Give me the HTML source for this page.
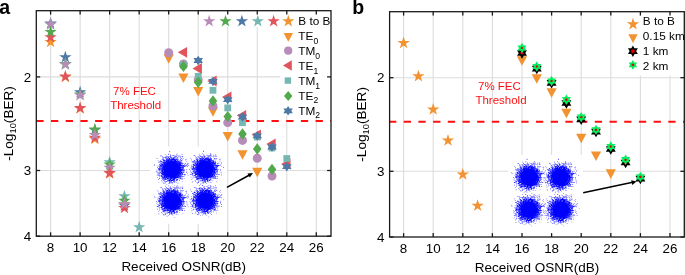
<!DOCTYPE html>
<html><head><meta charset="utf-8"><style>
html,body{margin:0;padding:0;background:#fff;width:685px;height:275px;overflow:hidden}
svg{display:block;font-family:"Liberation Sans", sans-serif;will-change:transform}
</style></head><body>
<svg width="685" height="275" viewBox="0 0 685 275" font-family='"Liberation Sans", sans-serif'><rect width="685" height="275" fill="#fff"/>
<line x1="50.6" y1="10.7" x2="50.6" y2="236.2" stroke="#dcdcdc" stroke-width="1.1"/>
<line x1="80.12" y1="10.7" x2="80.12" y2="236.2" stroke="#dcdcdc" stroke-width="1.1"/>
<line x1="109.64" y1="10.7" x2="109.64" y2="236.2" stroke="#dcdcdc" stroke-width="1.1"/>
<line x1="139.17" y1="10.7" x2="139.17" y2="236.2" stroke="#dcdcdc" stroke-width="1.1"/>
<line x1="168.69" y1="10.7" x2="168.69" y2="236.2" stroke="#dcdcdc" stroke-width="1.1"/>
<line x1="198.21" y1="10.7" x2="198.21" y2="236.2" stroke="#dcdcdc" stroke-width="1.1"/>
<line x1="227.73" y1="10.7" x2="227.73" y2="236.2" stroke="#dcdcdc" stroke-width="1.1"/>
<line x1="257.25" y1="10.7" x2="257.25" y2="236.2" stroke="#dcdcdc" stroke-width="1.1"/>
<line x1="286.78" y1="10.7" x2="286.78" y2="236.2" stroke="#dcdcdc" stroke-width="1.1"/>
<line x1="316.3" y1="10.7" x2="316.3" y2="236.2" stroke="#dcdcdc" stroke-width="1.1"/>
<line x1="36.3" y1="76.9" x2="331" y2="76.9" stroke="#dcdcdc" stroke-width="1.1"/>
<line x1="36.3" y1="170.5" x2="331" y2="170.5" stroke="#dcdcdc" stroke-width="1.1"/>
<line x1="403.6" y1="11.7" x2="403.6" y2="237" stroke="#dcdcdc" stroke-width="1.1"/>
<line x1="433.2" y1="11.7" x2="433.2" y2="237" stroke="#dcdcdc" stroke-width="1.1"/>
<line x1="462.8" y1="11.7" x2="462.8" y2="237" stroke="#dcdcdc" stroke-width="1.1"/>
<line x1="492.4" y1="11.7" x2="492.4" y2="237" stroke="#dcdcdc" stroke-width="1.1"/>
<line x1="522" y1="11.7" x2="522" y2="237" stroke="#dcdcdc" stroke-width="1.1"/>
<line x1="551.6" y1="11.7" x2="551.6" y2="237" stroke="#dcdcdc" stroke-width="1.1"/>
<line x1="581.2" y1="11.7" x2="581.2" y2="237" stroke="#dcdcdc" stroke-width="1.1"/>
<line x1="610.8" y1="11.7" x2="610.8" y2="237" stroke="#dcdcdc" stroke-width="1.1"/>
<line x1="640.4" y1="11.7" x2="640.4" y2="237" stroke="#dcdcdc" stroke-width="1.1"/>
<line x1="670" y1="11.7" x2="670" y2="237" stroke="#dcdcdc" stroke-width="1.1"/>
<line x1="389.6" y1="77.7" x2="684.3" y2="77.7" stroke="#dcdcdc" stroke-width="1.1"/>
<line x1="389.6" y1="171.3" x2="684.3" y2="171.3" stroke="#dcdcdc" stroke-width="1.1"/>
<line x1="36.3" y1="121" x2="331" y2="121" stroke="#FF1010" stroke-width="2" stroke-dasharray="7.3 7.4"/>
<line x1="389.6" y1="121.8" x2="684.3" y2="121.8" stroke="#FF1010" stroke-width="2" stroke-dasharray="7.3 7.4" stroke-dashoffset="0.6"/>
<text x="134.5" y="95.2" font-size="11.5" fill="#FF1010" text-anchor="middle" font-weight="normal">7% FEC</text>
<text x="135.7" y="109.4" font-size="11.5" fill="#FF1010" text-anchor="middle" font-weight="normal">Threshold</text>
<text x="499.4" y="89.8" font-size="11.5" fill="#FF1010" text-anchor="middle" font-weight="normal">7% FEC</text>
<text x="501" y="103.8" font-size="11.5" fill="#FF1010" text-anchor="middle" font-weight="normal">Threshold</text>
<defs><g id="cl"><circle r="8.6" fill="#0000FF"/><path d="M-8.6 4.0h0.6v0.6h-0.6zM-8.8 -9.0h0.6v0.6h-0.6zM-3.6 8.3h0.6v0.6h-0.6zM-10.4 -1.9h0.6v0.6h-0.6zM-7.6 3.8h0.6v0.6h-0.6zM6.1 -10.5h0.6v0.6h-0.6zM-9.8 -12.9h0.6v0.6h-0.6zM7.7 2.8h0.6v0.6h-0.6zM-8.1 6.1h0.6v0.6h-0.6zM-10.2 -3.5h0.6v0.6h-0.6zM3.9 -9.4h0.6v0.6h-0.6zM-6.9 7.8h0.6v0.6h-0.6zM6.7 -5.4h0.6v0.6h-0.6zM6.0 -6.6h0.6v0.6h-0.6zM9.8 1.3h0.6v0.6h-0.6zM8.9 -13.1h0.6v0.6h-0.6zM11.9 1.5h0.6v0.6h-0.6zM-13.9 -2.7h0.6v0.6h-0.6zM4.0 7.2h0.6v0.6h-0.6zM-8.8 -2.1h0.6v0.6h-0.6zM5.2 -13.7h0.6v0.6h-0.6zM5.1 -7.5h0.6v0.6h-0.6zM3.1 -7.8h0.6v0.6h-0.6zM13.4 -6.0h0.6v0.6h-0.6zM-7.9 -7.8h0.6v0.6h-0.6zM-5.4 -7.7h0.6v0.6h-0.6zM7.1 -5.0h0.6v0.6h-0.6zM3.5 7.6h0.6v0.6h-0.6zM-4.8 7.5h0.6v0.6h-0.6zM-10.2 6.7h0.6v0.6h-0.6zM7.2 -5.4h0.6v0.6h-0.6zM5.4 7.1h0.6v0.6h-0.6zM-11.8 -2.2h0.6v0.6h-0.6zM-9.6 3.8h0.6v0.6h-0.6zM7.2 7.7h0.6v0.6h-0.6zM-9.7 -5.7h0.6v0.6h-0.6zM-10.1 5.0h0.6v0.6h-0.6zM8.7 -0.1h0.6v0.6h-0.6zM-8.5 -3.3h0.6v0.6h-0.6zM-8.1 -3.5h0.6v0.6h-0.6zM-12.1 1.3h0.6v0.6h-0.6zM-3.5 -10.0h0.6v0.6h-0.6zM-11.5 -4.7h0.6v0.6h-0.6zM2.0 -10.7h0.6v0.6h-0.6zM9.4 -9.1h0.6v0.6h-0.6zM2.0 11.8h0.6v0.6h-0.6zM9.1 -0.9h0.6v0.6h-0.6zM13.0 5.4h0.6v0.6h-0.6zM2.9 -13.3h0.6v0.6h-0.6zM8.1 1.8h0.6v0.6h-0.6zM-10.0 4.9h0.6v0.6h-0.6zM6.3 8.7h0.6v0.6h-0.6zM10.3 4.9h0.6v0.6h-0.6zM-6.3 -7.0h0.6v0.6h-0.6zM8.2 4.6h0.6v0.6h-0.6zM8.8 3.8h0.6v0.6h-0.6zM-11.1 -4.0h0.6v0.6h-0.6zM-9.8 -0.0h0.6v0.6h-0.6zM-5.7 -13.4h0.6v0.6h-0.6zM-5.5 7.6h0.6v0.6h-0.6zM7.1 3.2h0.6v0.6h-0.6zM8.0 4.6h0.6v0.6h-0.6zM-1.4 12.4h0.6v0.6h-0.6zM0.2 12.7h0.6v0.6h-0.6zM-2.5 -10.3h0.6v0.6h-0.6zM8.8 2.3h0.6v0.6h-0.6zM-1.2 -9.4h0.6v0.6h-0.6zM-9.8 -0.6h0.6v0.6h-0.6zM2.9 -9.1h0.6v0.6h-0.6zM-9.4 -5.6h0.6v0.6h-0.6zM7.2 5.5h0.6v0.6h-0.6zM2.2 -8.2h0.6v0.6h-0.6zM-1.2 -13.9h0.6v0.6h-0.6zM11.3 -1.9h0.6v0.6h-0.6zM5.3 -12.2h0.6v0.6h-0.6zM2.7 11.4h0.6v0.6h-0.6zM0.9 10.3h0.6v0.6h-0.6zM-4.2 8.5h0.6v0.6h-0.6zM8.0 -0.2h0.6v0.6h-0.6zM7.3 5.4h0.6v0.6h-0.6zM-2.9 11.1h0.6v0.6h-0.6zM-9.0 8.6h0.6v0.6h-0.6zM6.5 -6.4h0.6v0.6h-0.6zM-7.8 -8.4h0.6v0.6h-0.6zM2.5 10.2h0.6v0.6h-0.6zM13.7 -9.6h0.6v0.6h-0.6zM-9.8 -4.7h0.6v0.6h-0.6zM9.0 -3.1h0.6v0.6h-0.6zM-9.2 6.9h0.6v0.6h-0.6zM4.2 -9.0h0.6v0.6h-0.6zM-5.4 -7.1h0.6v0.6h-0.6zM8.2 1.8h0.6v0.6h-0.6zM0.9 10.9h0.6v0.6h-0.6zM-5.9 -10.2h0.6v0.6h-0.6zM1.2 8.0h0.6v0.6h-0.6zM-3.7 11.5h0.6v0.6h-0.6zM-6.5 -10.8h0.6v0.6h-0.6zM2.8 12.9h0.6v0.6h-0.6zM8.0 -6.5h0.6v0.6h-0.6zM-2.2 -17.5h0.6v0.6h-0.6zM4.3 10.5h0.6v0.6h-0.6zM-6.1 7.0h0.6v0.6h-0.6zM-8.1 7.7h0.6v0.6h-0.6zM-8.0 4.6h0.6v0.6h-0.6zM-0.5 -11.0h0.6v0.6h-0.6zM8.1 -0.1h0.6v0.6h-0.6zM11.6 -3.6h0.6v0.6h-0.6zM3.5 -8.0h0.6v0.6h-0.6zM2.4 7.6h0.6v0.6h-0.6zM-6.7 12.2h0.6v0.6h-0.6zM10.7 -10.2h0.6v0.6h-0.6zM-0.4 -10.0h0.6v0.6h-0.6zM5.6 8.2h0.6v0.6h-0.6zM-12.7 9.2h0.6v0.6h-0.6zM-9.4 1.2h0.6v0.6h-0.6zM5.7 -9.6h0.6v0.6h-0.6zM-0.8 8.4h0.6v0.6h-0.6zM-4.7 11.3h0.6v0.6h-0.6zM10.8 -13.0h0.6v0.6h-0.6zM10.5 0.1h0.6v0.6h-0.6zM-8.5 4.0h0.6v0.6h-0.6zM-8.9 5.5h0.6v0.6h-0.6zM-7.3 -8.8h0.6v0.6h-0.6zM-11.6 -1.8h0.6v0.6h-0.6zM4.1 -12.6h0.6v0.6h-0.6zM12.5 -5.1h0.6v0.6h-0.6zM-8.3 5.2h0.6v0.6h-0.6zM-2.0 -10.8h0.6v0.6h-0.6zM0.4 -9.0h0.6v0.6h-0.6zM-1.2 -8.9h0.6v0.6h-0.6zM10.1 -13.3h0.6v0.6h-0.6zM-1.3 -9.4h0.6v0.6h-0.6zM4.6 13.0h0.6v0.6h-0.6zM-12.8 0.3h0.6v0.6h-0.6zM2.5 -11.5h0.6v0.6h-0.6zM-11.5 -0.5h0.6v0.6h-0.6zM5.9 9.7h0.6v0.6h-0.6zM-4.8 -9.9h0.6v0.6h-0.6zM4.0 7.3h0.6v0.6h-0.6zM-9.4 -5.3h0.6v0.6h-0.6zM12.2 9.3h0.6v0.6h-0.6zM-5.7 6.2h0.6v0.6h-0.6zM-9.5 -11.3h0.6v0.6h-0.6zM-10.9 -1.1h0.6v0.6h-0.6zM7.5 8.5h0.6v0.6h-0.6zM5.7 -6.6h0.6v0.6h-0.6zM-0.2 10.5h0.6v0.6h-0.6zM7.8 2.8h0.6v0.6h-0.6zM9.7 2.8h0.6v0.6h-0.6zM9.3 0.1h0.6v0.6h-0.6zM-4.6 6.8h0.6v0.6h-0.6zM-3.6 -9.4h0.6v0.6h-0.6zM-0.8 -12.3h0.6v0.6h-0.6zM0.4 10.6h0.6v0.6h-0.6zM-7.4 -12.3h0.6v0.6h-0.6zM-9.7 1.5h0.6v0.6h-0.6zM-3.5 -9.6h0.6v0.6h-0.6zM9.4 4.9h0.6v0.6h-0.6zM8.7 6.8h0.6v0.6h-0.6zM-6.3 6.7h0.6v0.6h-0.6zM4.2 -9.8h0.6v0.6h-0.6zM8.9 3.7h0.6v0.6h-0.6zM10.0 -6.5h0.6v0.6h-0.6zM5.0 -7.8h0.6v0.6h-0.6zM-6.5 -7.3h0.6v0.6h-0.6zM-8.2 3.0h0.6v0.6h-0.6zM0.8 -14.1h0.6v0.6h-0.6zM-9.2 0.2h0.6v0.6h-0.6zM-5.7 7.4h0.6v0.6h-0.6zM-1.1 11.7h0.6v0.6h-0.6zM7.4 4.0h0.6v0.6h-0.6zM-3.2 -8.6h0.6v0.6h-0.6zM-7.8 6.8h0.6v0.6h-0.6zM-8.5 -1.9h0.6v0.6h-0.6zM5.1 7.7h0.6v0.6h-0.6zM-4.6 -7.3h0.6v0.6h-0.6zM-3.1 -9.5h0.6v0.6h-0.6zM10.0 7.3h0.6v0.6h-0.6zM8.6 -1.2h0.6v0.6h-0.6zM-7.4 4.9h0.6v0.6h-0.6zM-7.1 4.3h0.6v0.6h-0.6zM-7.7 -4.0h0.6v0.6h-0.6zM-2.1 -10.4h0.6v0.6h-0.6zM-5.5 -10.6h0.6v0.6h-0.6zM-13.8 0.6h0.6v0.6h-0.6zM4.3 7.1h0.6v0.6h-0.6zM-10.6 6.2h0.6v0.6h-0.6zM-6.9 5.0h0.6v0.6h-0.6zM10.1 9.7h0.6v0.6h-0.6zM1.0 7.8h0.6v0.6h-0.6zM1.4 8.5h0.6v0.6h-0.6zM5.7 6.0h0.6v0.6h-0.6zM1.6 12.4h0.6v0.6h-0.6zM3.6 -8.7h0.6v0.6h-0.6zM8.5 -4.6h0.6v0.6h-0.6zM8.5 3.0h0.6v0.6h-0.6zM7.0 -5.2h0.6v0.6h-0.6zM5.7 7.0h0.6v0.6h-0.6zM12.0 0.6h0.6v0.6h-0.6zM0.6 8.3h0.6v0.6h-0.6zM7.0 -5.3h0.6v0.6h-0.6zM4.9 8.9h0.6v0.6h-0.6zM-7.1 -5.8h0.6v0.6h-0.6zM-5.5 -9.5h0.6v0.6h-0.6zM2.0 -9.6h0.6v0.6h-0.6zM-8.4 -1.9h0.6v0.6h-0.6zM-9.9 3.6h0.6v0.6h-0.6zM-10.0 -2.8h0.6v0.6h-0.6zM9.3 0.1h0.6v0.6h-0.6zM-5.2 -8.6h0.6v0.6h-0.6zM-5.1 -10.9h0.6v0.6h-0.6zM-7.1 12.1h0.6v0.6h-0.6zM-5.6 8.1h0.6v0.6h-0.6zM-8.8 -1.7h0.6v0.6h-0.6zM-13.9 -0.8h0.6v0.6h-0.6zM-5.3 -7.6h0.6v0.6h-0.6zM-6.1 -6.9h0.6v0.6h-0.6zM-5.1 -7.7h0.6v0.6h-0.6zM1.4 -11.2h0.6v0.6h-0.6zM3.6 -8.2h0.6v0.6h-0.6zM-7.6 -9.4h0.6v0.6h-0.6zM-10.2 -6.7h0.6v0.6h-0.6zM9.1 8.7h0.6v0.6h-0.6zM8.3 5.0h0.6v0.6h-0.6zM7.9 2.4h0.6v0.6h-0.6zM-2.5 -9.9h0.6v0.6h-0.6zM-11.6 2.5h0.6v0.6h-0.6zM-0.6 12.6h0.6v0.6h-0.6zM4.7 8.3h0.6v0.6h-0.6zM5.2 6.8h0.6v0.6h-0.6zM-6.9 5.5h0.6v0.6h-0.6zM7.9 -3.3h0.6v0.6h-0.6zM12.2 4.7h0.6v0.6h-0.6zM-3.0 -9.3h0.6v0.6h-0.6zM9.0 -1.6h0.6v0.6h-0.6zM-9.7 4.2h0.6v0.6h-0.6zM-8.8 -6.7h0.6v0.6h-0.6zM3.9 -9.9h0.6v0.6h-0.6zM8.8 2.2h0.6v0.6h-0.6zM3.5 -9.6h0.6v0.6h-0.6zM5.1 -7.6h0.6v0.6h-0.6zM-4.7 -10.4h0.6v0.6h-0.6zM-8.7 -3.3h0.6v0.6h-0.6zM2.3 7.6h0.6v0.6h-0.6zM-0.5 8.0h0.6v0.6h-0.6zM7.4 4.4h0.6v0.6h-0.6zM-9.7 -5.4h0.6v0.6h-0.6zM14.6 2.9h0.6v0.6h-0.6zM7.8 -3.1h0.6v0.6h-0.6zM5.1 -12.0h0.6v0.6h-0.6zM-9.8 -3.9h0.6v0.6h-0.6zM-12.0 2.8h0.6v0.6h-0.6zM8.9 8.4h0.6v0.6h-0.6zM-8.2 -10.0h0.6v0.6h-0.6zM14.8 -3.6h0.6v0.6h-0.6zM8.6 -6.5h0.6v0.6h-0.6zM-9.1 -11.9h0.6v0.6h-0.6zM0.1 -12.1h0.6v0.6h-0.6zM-7.4 -4.9h0.6v0.6h-0.6zM10.9 2.3h0.6v0.6h-0.6zM1.8 11.2h0.6v0.6h-0.6zM6.7 -8.1h0.6v0.6h-0.6zM9.1 6.3h0.6v0.6h-0.6zM5.9 7.7h0.6v0.6h-0.6zM-4.8 9.5h0.6v0.6h-0.6zM10.1 8.8h0.6v0.6h-0.6zM9.6 3.4h0.6v0.6h-0.6zM-10.4 11.3h0.6v0.6h-0.6zM11.1 -0.4h0.6v0.6h-0.6zM3.3 7.5h0.6v0.6h-0.6zM5.2 -8.7h0.6v0.6h-0.6zM3.4 8.4h0.6v0.6h-0.6zM3.8 -9.5h0.6v0.6h-0.6zM-6.4 5.4h0.6v0.6h-0.6zM9.1 3.5h0.6v0.6h-0.6zM-0.3 8.9h0.6v0.6h-0.6zM-8.6 -5.7h0.6v0.6h-0.6zM5.1 -10.8h0.6v0.6h-0.6zM-9.7 7.0h0.6v0.6h-0.6zM-13.3 5.3h0.6v0.6h-0.6zM3.4 -10.7h0.6v0.6h-0.6zM3.6 -9.2h0.6v0.6h-0.6zM11.0 -3.4h0.6v0.6h-0.6zM8.2 -1.9h0.6v0.6h-0.6zM3.5 -10.0h0.6v0.6h-0.6zM-11.3 -3.3h0.6v0.6h-0.6zM-3.5 14.2h0.6v0.6h-0.6zM-2.7 8.0h0.6v0.6h-0.6zM-7.6 -6.8h0.6v0.6h-0.6zM-0.9 -8.5h0.6v0.6h-0.6zM-13.1 -0.1h0.6v0.6h-0.6zM1.8 -10.2h0.6v0.6h-0.6zM1.9 -9.8h0.6v0.6h-0.6zM5.0 -8.2h0.6v0.6h-0.6zM-10.1 4.6h0.6v0.6h-0.6zM7.3 -4.4h0.6v0.6h-0.6zM-17.7 -4.6h0.6v0.6h-0.6zM-7.5 9.5h0.6v0.6h-0.6zM-9.5 -4.9h0.6v0.6h-0.6zM-9.3 -2.0h0.6v0.6h-0.6zM9.0 -1.6h0.6v0.6h-0.6zM6.2 -14.0h0.6v0.6h-0.6zM-9.9 12.4h0.6v0.6h-0.6zM-7.8 4.3h0.6v0.6h-0.6zM-17.1 -3.7h0.6v0.6h-0.6zM-9.5 -1.6h0.6v0.6h-0.6zM-7.2 -6.2h0.6v0.6h-0.6zM8.5 6.0h0.6v0.6h-0.6zM9.6 3.2h0.6v0.6h-0.6zM-11.3 -6.6h0.6v0.6h-0.6zM8.6 -4.4h0.6v0.6h-0.6zM-4.5 9.5h0.6v0.6h-0.6zM-10.4 -7.9h0.6v0.6h-0.6zM-12.5 0.0h0.6v0.6h-0.6zM-4.0 9.2h0.6v0.6h-0.6zM-9.1 0.6h0.6v0.6h-0.6zM6.4 6.2h0.6v0.6h-0.6zM-9.2 3.0h0.6v0.6h-0.6zM-9.3 8.5h0.6v0.6h-0.6zM2.9 11.6h0.6v0.6h-0.6zM-1.4 8.2h0.6v0.6h-0.6zM4.0 8.4h0.6v0.6h-0.6zM7.0 -5.0h0.6v0.6h-0.6zM7.1 -7.0h0.6v0.6h-0.6zM8.0 7.0h0.6v0.6h-0.6zM4.1 -7.8h0.6v0.6h-0.6zM6.5 5.4h0.6v0.6h-0.6zM2.4 10.4h0.6v0.6h-0.6zM-0.4 -9.7h0.6v0.6h-0.6zM-1.0 -9.7h0.6v0.6h-0.6zM-2.9 -9.0h0.6v0.6h-0.6zM-3.5 9.6h0.6v0.6h-0.6zM-4.9 7.7h0.6v0.6h-0.6zM-8.4 -2.8h0.6v0.6h-0.6zM0.7 -9.7h0.6v0.6h-0.6zM8.0 -0.7h0.6v0.6h-0.6zM-8.4 -8.7h0.6v0.6h-0.6zM8.2 1.2h0.6v0.6h-0.6zM6.2 -9.7h0.6v0.6h-0.6zM4.0 7.3h0.6v0.6h-0.6zM3.7 -7.5h0.6v0.6h-0.6zM-6.7 6.6h0.6v0.6h-0.6zM9.7 -7.1h0.6v0.6h-0.6zM-12.7 4.3h0.6v0.6h-0.6zM5.0 -8.6h0.6v0.6h-0.6zM-5.0 -8.4h0.6v0.6h-0.6zM10.5 -2.3h0.6v0.6h-0.6zM8.7 -10.4h0.6v0.6h-0.6zM-6.1 8.4h0.6v0.6h-0.6zM7.3 6.2h0.6v0.6h-0.6zM-9.6 3.4h0.6v0.6h-0.6zM7.2 5.3h0.6v0.6h-0.6zM8.5 -5.3h0.6v0.6h-0.6zM3.8 6.9h0.6v0.6h-0.6zM-4.9 6.8h0.6v0.6h-0.6zM-4.3 -8.8h0.6v0.6h-0.6zM-1.3 -12.4h0.6v0.6h-0.6zM-8.9 -3.0h0.6v0.6h-0.6zM8.3 7.1h0.6v0.6h-0.6zM6.6 5.4h0.6v0.6h-0.6zM-3.7 -8.7h0.6v0.6h-0.6zM-10.5 -0.4h0.6v0.6h-0.6zM3.5 8.1h0.6v0.6h-0.6zM1.9 10.1h0.6v0.6h-0.6zM-14.5 3.4h0.6v0.6h-0.6zM-12.6 -2.5h0.6v0.6h-0.6zM-8.3 -3.5h0.6v0.6h-0.6zM5.7 -6.5h0.6v0.6h-0.6zM2.6 -10.0h0.6v0.6h-0.6zM-3.1 7.7h0.6v0.6h-0.6zM-6.9 13.1h0.6v0.6h-0.6zM9.8 0.2h0.6v0.6h-0.6zM-13.2 -7.5h0.6v0.6h-0.6zM-5.7 6.5h0.6v0.6h-0.6zM-9.4 4.1h0.6v0.6h-0.6zM-8.3 -6.3h0.6v0.6h-0.6zM-1.6 -13.1h0.6v0.6h-0.6zM3.4 -9.8h0.6v0.6h-0.6zM-4.2 7.1h0.6v0.6h-0.6zM-2.3 -8.5h0.6v0.6h-0.6zM1.6 -13.9h0.6v0.6h-0.6zM-12.1 -2.0h0.6v0.6h-0.6zM-1.2 -11.5h0.6v0.6h-0.6zM-5.1 9.4h0.6v0.6h-0.6zM-8.4 5.5h0.6v0.6h-0.6zM-9.8 5.7h0.6v0.6h-0.6zM-5.1 15.0h0.6v0.6h-0.6zM5.2 8.0h0.6v0.6h-0.6zM-0.2 -9.6h0.6v0.6h-0.6zM-10.8 0.7h0.6v0.6h-0.6zM-9.4 -5.2h0.6v0.6h-0.6zM2.3 9.7h0.6v0.6h-0.6zM-5.9 6.4h0.6v0.6h-0.6zM10.3 -12.5h0.6v0.6h-0.6zM10.0 8.4h0.6v0.6h-0.6zM10.7 0.4h0.6v0.6h-0.6zM-6.3 9.2h0.6v0.6h-0.6zM-2.5 -10.4h0.6v0.6h-0.6zM0.6 8.5h0.6v0.6h-0.6zM14.9 1.6h0.6v0.6h-0.6zM-4.5 9.1h0.6v0.6h-0.6zM2.5 12.5h0.6v0.6h-0.6zM-5.5 -13.5h0.6v0.6h-0.6zM-12.0 6.2h0.6v0.6h-0.6zM-9.2 -7.5h0.6v0.6h-0.6zM4.5 -7.6h0.6v0.6h-0.6zM-5.6 11.9h0.6v0.6h-0.6zM8.0 -0.3h0.6v0.6h-0.6zM-13.9 -9.2h0.6v0.6h-0.6zM-1.3 10.6h0.6v0.6h-0.6zM4.1 7.9h0.6v0.6h-0.6zM4.7 -9.7h0.6v0.6h-0.6zM-7.2 6.1h0.6v0.6h-0.6zM-13.8 10.1h0.6v0.6h-0.6zM-9.2 0.9h0.6v0.6h-0.6zM-6.8 -7.8h0.6v0.6h-0.6zM6.5 -5.2h0.6v0.6h-0.6zM-10.7 1.4h0.6v0.6h-0.6zM-9.6 -1.0h0.6v0.6h-0.6zM-4.2 -7.5h0.6v0.6h-0.6zM0.7 -8.8h0.6v0.6h-0.6zM7.9 4.0h0.6v0.6h-0.6zM8.9 -0.4h0.6v0.6h-0.6zM14.7 0.3h0.6v0.6h-0.6zM5.7 -7.0h0.6v0.6h-0.6zM-1.6 8.5h0.6v0.6h-0.6zM-11.5 3.0h0.6v0.6h-0.6zM-9.9 3.2h0.6v0.6h-0.6zM2.3 -12.3h0.6v0.6h-0.6zM-0.8 10.6h0.6v0.6h-0.6zM8.9 2.2h0.6v0.6h-0.6zM4.0 -13.6h0.6v0.6h-0.6zM14.5 -8.0h0.6v0.6h-0.6zM-10.2 0.7h0.6v0.6h-0.6zM-1.7 10.2h0.6v0.6h-0.6zM-10.9 -7.9h0.6v0.6h-0.6zM-7.0 9.7h0.6v0.6h-0.6zM-0.2 7.9h0.6v0.6h-0.6zM3.5 7.6h0.6v0.6h-0.6zM-8.6 -3.1h0.6v0.6h-0.6zM5.5 10.1h0.6v0.6h-0.6zM-5.0 8.1h0.6v0.6h-0.6zM0.3 9.8h0.6v0.6h-0.6zM-10.8 -0.4h0.6v0.6h-0.6zM11.6 0.8h0.6v0.6h-0.6zM-9.1 0.3h0.6v0.6h-0.6zM0.8 8.0h0.6v0.6h-0.6zM-7.5 -5.2h0.6v0.6h-0.6zM-7.0 11.6h0.6v0.6h-0.6zM8.6 -0.5h0.6v0.6h-0.6zM1.7 -11.0h0.6v0.6h-0.6zM4.7 -7.5h0.6v0.6h-0.6zM5.3 -10.7h0.6v0.6h-0.6zM6.5 -5.0h0.6v0.6h-0.6zM4.2 -8.1h0.6v0.6h-0.6zM3.7 -8.1h0.6v0.6h-0.6zM8.3 -2.0h0.6v0.6h-0.6zM-0.4 9.2h0.6v0.6h-0.6zM-11.2 0.2h0.6v0.6h-0.6zM-7.1 5.2h0.6v0.6h-0.6zM8.4 -3.6h0.6v0.6h-0.6zM-5.8 -8.1h0.6v0.6h-0.6zM4.3 -7.9h0.6v0.6h-0.6zM-6.2 7.4h0.6v0.6h-0.6zM-5.1 -8.0h0.6v0.6h-0.6zM8.7 2.1h0.6v0.6h-0.6zM1.4 10.1h0.6v0.6h-0.6zM-8.5 -7.1h0.6v0.6h-0.6zM5.1 10.4h0.6v0.6h-0.6zM-9.0 2.3h0.6v0.6h-0.6zM-8.5 7.7h0.6v0.6h-0.6zM-12.1 4.0h0.6v0.6h-0.6zM-9.3 10.0h0.6v0.6h-0.6zM8.6 3.0h0.6v0.6h-0.6zM-8.2 2.4h0.6v0.6h-0.6zM9.8 -3.4h0.6v0.6h-0.6zM-6.8 4.9h0.6v0.6h-0.6zM-9.7 8.5h0.6v0.6h-0.6zM-8.6 -4.6h0.6v0.6h-0.6zM12.2 -2.9h0.6v0.6h-0.6zM2.8 10.2h0.6v0.6h-0.6zM-9.4 2.6h0.6v0.6h-0.6zM-6.0 -6.9h0.6v0.6h-0.6zM-7.6 8.2h0.6v0.6h-0.6zM-7.5 9.1h0.6v0.6h-0.6zM-8.0 4.4h0.6v0.6h-0.6zM-8.3 -10.6h0.6v0.6h-0.6zM7.4 -3.3h0.6v0.6h-0.6zM3.7 9.0h0.6v0.6h-0.6zM-5.5 -9.7h0.6v0.6h-0.6zM-10.1 -0.4h0.6v0.6h-0.6zM-1.7 9.2h0.6v0.6h-0.6zM2.0 -9.6h0.6v0.6h-0.6zM8.3 -6.7h0.6v0.6h-0.6zM-0.7 -9.6h0.6v0.6h-0.6zM-6.4 -8.6h0.6v0.6h-0.6zM-7.7 -5.9h0.6v0.6h-0.6zM-6.4 -12.4h0.6v0.6h-0.6zM-8.8 -3.4h0.6v0.6h-0.6zM8.8 2.0h0.6v0.6h-0.6zM1.5 8.4h0.6v0.6h-0.6zM2.1 8.9h0.6v0.6h-0.6zM8.2 1.4h0.6v0.6h-0.6zM1.2 9.6h0.6v0.6h-0.6zM8.7 -0.5h0.6v0.6h-0.6zM7.9 -1.7h0.6v0.6h-0.6zM10.3 -3.9h0.6v0.6h-0.6zM9.6 0.5h0.6v0.6h-0.6zM-6.9 8.1h0.6v0.6h-0.6zM4.6 6.8h0.6v0.6h-0.6zM-15.3 2.4h0.6v0.6h-0.6zM7.3 -5.0h0.6v0.6h-0.6zM-9.5 1.1h0.6v0.6h-0.6zM10.5 1.2h0.6v0.6h-0.6zM-3.3 -12.0h0.6v0.6h-0.6zM3.3 -9.2h0.6v0.6h-0.6zM3.9 -8.0h0.6v0.6h-0.6zM-7.7 -7.6h0.6v0.6h-0.6zM6.6 8.2h0.6v0.6h-0.6zM0.8 14.4h0.6v0.6h-0.6zM1.9 -9.4h0.6v0.6h-0.6zM-5.8 -6.4h0.6v0.6h-0.6zM8.6 -1.6h0.6v0.6h-0.6zM0.4 11.2h0.6v0.6h-0.6zM3.2 8.1h0.6v0.6h-0.6zM6.6 5.1h0.6v0.6h-0.6zM8.3 -7.4h0.6v0.6h-0.6zM9.5 -0.2h0.6v0.6h-0.6zM-9.0 -3.5h0.6v0.6h-0.6zM-7.7 -5.3h0.6v0.6h-0.6zM4.1 -8.3h0.6v0.6h-0.6zM-1.5 -10.0h0.6v0.6h-0.6zM-11.2 -8.9h0.6v0.6h-0.6zM-6.9 -9.3h0.6v0.6h-0.6zM-1.3 -9.2h0.6v0.6h-0.6zM7.8 -5.3h0.6v0.6h-0.6zM-4.4 -9.1h0.6v0.6h-0.6zM-9.6 4.0h0.6v0.6h-0.6zM4.8 10.5h0.6v0.6h-0.6zM7.4 -3.8h0.6v0.6h-0.6zM8.0 -14.0h0.6v0.6h-0.6zM8.2 -7.7h0.6v0.6h-0.6zM-4.4 7.2h0.6v0.6h-0.6zM1.3 -10.7h0.6v0.6h-0.6zM7.1 5.4h0.6v0.6h-0.6zM-11.7 -3.1h0.6v0.6h-0.6zM-9.6 5.8h0.6v0.6h-0.6zM-5.1 -12.5h0.6v0.6h-0.6zM-2.8 10.3h0.6v0.6h-0.6zM-3.5 -15.1h0.6v0.6h-0.6zM-0.5 -8.7h0.6v0.6h-0.6zM-1.6 8.2h0.6v0.6h-0.6zM5.2 -7.4h0.6v0.6h-0.6zM9.4 0.6h0.6v0.6h-0.6zM8.5 9.1h0.6v0.6h-0.6zM5.4 6.4h0.6v0.6h-0.6zM-0.2 8.6h0.6v0.6h-0.6zM-5.2 -8.4h0.6v0.6h-0.6zM8.5 -9.6h0.6v0.6h-0.6zM5.2 6.8h0.6v0.6h-0.6zM7.4 -3.1h0.6v0.6h-0.6zM2.7 7.5h0.6v0.6h-0.6zM-10.6 -6.2h0.6v0.6h-0.6zM11.8 0.7h0.6v0.6h-0.6zM-12.4 -1.2h0.6v0.6h-0.6zM-15.8 0.5h0.6v0.6h-0.6zM1.6 12.3h0.6v0.6h-0.6zM4.6 7.7h0.6v0.6h-0.6zM8.9 8.4h0.6v0.6h-0.6zM-9.1 5.4h0.6v0.6h-0.6zM-5.5 -8.7h0.6v0.6h-0.6zM10.2 3.2h0.6v0.6h-0.6zM9.6 -2.4h0.6v0.6h-0.6zM5.0 -7.7h0.6v0.6h-0.6zM3.1 -10.5h0.6v0.6h-0.6zM9.2 4.6h0.6v0.6h-0.6zM7.1 3.4h0.6v0.6h-0.6zM-4.5 -8.2h0.6v0.6h-0.6zM8.2 -2.6h0.6v0.6h-0.6zM-11.0 6.6h0.6v0.6h-0.6zM-4.7 -7.6h0.6v0.6h-0.6zM-9.1 9.1h0.6v0.6h-0.6zM0.7 -9.7h0.6v0.6h-0.6zM-3.9 -12.8h0.6v0.6h-0.6zM2.5 7.7h0.6v0.6h-0.6zM5.7 -8.6h0.6v0.6h-0.6zM8.5 7.4h0.6v0.6h-0.6zM-1.0 8.5h0.6v0.6h-0.6zM2.3 -8.9h0.6v0.6h-0.6zM2.6 -8.6h0.6v0.6h-0.6zM-8.4 -7.4h0.6v0.6h-0.6zM1.0 -9.6h0.6v0.6h-0.6zM-3.0 -12.6h0.6v0.6h-0.6zM9.0 -4.6h0.6v0.6h-0.6zM-2.3 -8.6h0.6v0.6h-0.6zM10.2 -5.4h0.6v0.6h-0.6zM10.6 -1.6h0.6v0.6h-0.6zM7.3 3.2h0.6v0.6h-0.6zM10.4 6.9h0.6v0.6h-0.6zM3.6 7.2h0.6v0.6h-0.6zM-0.8 7.9h0.6v0.6h-0.6zM8.1 -7.1h0.6v0.6h-0.6zM-12.6 1.8h0.6v0.6h-0.6zM4.1 11.5h0.6v0.6h-0.6zM6.9 5.4h0.6v0.6h-0.6zM3.6 7.0h0.6v0.6h-0.6zM-8.4 4.3h0.6v0.6h-0.6zM8.2 0.3h0.6v0.6h-0.6zM-8.7 -6.9h0.6v0.6h-0.6zM5.1 -7.8h0.6v0.6h-0.6zM1.3 10.5h0.6v0.6h-0.6zM6.1 -5.8h0.6v0.6h-0.6zM0.1 10.9h0.6v0.6h-0.6zM4.8 -14.7h0.6v0.6h-0.6zM-1.5 -8.6h0.6v0.6h-0.6zM5.1 -8.4h0.6v0.6h-0.6zM7.3 -3.4h0.6v0.6h-0.6zM9.3 2.7h0.6v0.6h-0.6zM-5.0 7.1h0.6v0.6h-0.6zM1.7 -10.2h0.6v0.6h-0.6zM3.7 -12.0h0.6v0.6h-0.6zM-4.1 9.1h0.6v0.6h-0.6zM-8.3 -5.2h0.6v0.6h-0.6zM-9.2 4.9h0.6v0.6h-0.6zM7.5 7.5h0.6v0.6h-0.6zM-9.5 -1.7h0.6v0.6h-0.6zM1.1 7.8h0.6v0.6h-0.6zM11.3 -10.8h0.6v0.6h-0.6zM-3.2 -11.5h0.6v0.6h-0.6zM7.5 9.5h0.6v0.6h-0.6zM0.3 -10.4h0.6v0.6h-0.6zM-7.6 8.4h0.6v0.6h-0.6zM-11.0 -0.5h0.6v0.6h-0.6zM9.8 -7.6h0.6v0.6h-0.6zM-11.9 -1.1h0.6v0.6h-0.6zM-6.4 -6.9h0.6v0.6h-0.6zM-2.0 -8.4h0.6v0.6h-0.6zM-8.9 -6.8h0.6v0.6h-0.6zM-1.8 -8.5h0.6v0.6h-0.6zM-1.6 9.1h0.6v0.6h-0.6zM-11.5 -13.6h0.6v0.6h-0.6zM-4.7 7.0h0.6v0.6h-0.6zM-12.8 4.7h0.6v0.6h-0.6zM-12.3 0.7h0.6v0.6h-0.6zM-4.2 -12.8h0.6v0.6h-0.6zM5.5 7.9h0.6v0.6h-0.6zM-1.4 -12.5h0.6v0.6h-0.6zM5.0 -7.4h0.6v0.6h-0.6zM-6.8 9.9h0.6v0.6h-0.6zM6.9 -5.7h0.6v0.6h-0.6zM-7.2 7.7h0.6v0.6h-0.6zM-7.5 8.1h0.6v0.6h-0.6zM-4.9 7.8h0.6v0.6h-0.6zM8.1 3.0h0.6v0.6h-0.6zM9.9 -6.8h0.6v0.6h-0.6zM-11.0 -3.8h0.6v0.6h-0.6zM9.3 5.8h0.6v0.6h-0.6zM-0.4 -10.2h0.6v0.6h-0.6zM5.5 -6.3h0.6v0.6h-0.6zM-11.5 -8.2h0.6v0.6h-0.6zM-6.5 -12.0h0.6v0.6h-0.6zM-9.2 10.4h0.6v0.6h-0.6zM15.7 -2.9h0.6v0.6h-0.6zM-8.5 3.0h0.6v0.6h-0.6zM9.0 -3.8h0.6v0.6h-0.6zM8.7 -0.0h0.6v0.6h-0.6zM8.6 0.0h0.6v0.6h-0.6zM-11.0 6.6h0.6v0.6h-0.6zM10.8 -3.5h0.6v0.6h-0.6zM7.0 -5.3h0.6v0.6h-0.6zM1.9 -9.3h0.6v0.6h-0.6zM-3.8 7.4h0.6v0.6h-0.6zM5.1 8.0h0.6v0.6h-0.6zM7.3 -3.9h0.6v0.6h-0.6zM4.7 6.5h0.6v0.6h-0.6zM-10.1 -5.1h0.6v0.6h-0.6zM-8.0 7.9h0.6v0.6h-0.6zM16.1 -6.4h0.6v0.6h-0.6zM2.7 -8.2h0.6v0.6h-0.6zM-9.9 2.4h0.6v0.6h-0.6zM-10.3 6.8h0.6v0.6h-0.6zM-0.2 8.9h0.6v0.6h-0.6zM8.0 4.8h0.6v0.6h-0.6zM-6.7 9.4h0.6v0.6h-0.6zM8.1 -1.9h0.6v0.6h-0.6zM8.7 6.1h0.6v0.6h-0.6zM-9.4 1.8h0.6v0.6h-0.6zM10.7 -3.0h0.6v0.6h-0.6zM-8.3 -3.1h0.6v0.6h-0.6zM13.4 -3.8h0.6v0.6h-0.6zM-8.2 9.0h0.6v0.6h-0.6zM-4.4 12.2h0.6v0.6h-0.6zM0.2 13.1h0.6v0.6h-0.6zM-4.9 -10.8h0.6v0.6h-0.6zM-9.6 5.1h0.6v0.6h-0.6zM-8.2 -5.3h0.6v0.6h-0.6zM3.8 8.2h0.6v0.6h-0.6zM9.0 6.6h0.6v0.6h-0.6zM-1.4 9.9h0.6v0.6h-0.6zM6.5 -12.6h0.6v0.6h-0.6zM6.1 5.0h0.6v0.6h-0.6zM15.0 -4.9h0.6v0.6h-0.6zM-7.1 8.0h0.6v0.6h-0.6zM-7.9 -5.0h0.6v0.6h-0.6zM-4.9 -8.6h0.6v0.6h-0.6zM-12.0 -1.2h0.6v0.6h-0.6zM-6.4 -15.0h0.6v0.6h-0.6zM10.9 -1.0h0.6v0.6h-0.6zM8.1 -4.0h0.6v0.6h-0.6zM-12.4 -6.7h0.6v0.6h-0.6zM-2.6 13.3h0.6v0.6h-0.6zM5.4 8.1h0.6v0.6h-0.6zM-6.5 7.8h0.6v0.6h-0.6zM7.1 -5.1h0.6v0.6h-0.6zM-0.2 11.1h0.6v0.6h-0.6zM-2.7 -9.2h0.6v0.6h-0.6zM-5.6 6.2h0.6v0.6h-0.6zM0.6 8.4h0.6v0.6h-0.6zM-6.6 -11.7h0.6v0.6h-0.6zM-2.8 -10.6h0.6v0.6h-0.6zM5.6 -8.5h0.6v0.6h-0.6zM-5.6 12.1h0.6v0.6h-0.6zM-2.5 10.8h0.6v0.6h-0.6zM6.0 -8.7h0.6v0.6h-0.6zM7.6 7.1h0.6v0.6h-0.6zM-6.2 5.8h0.6v0.6h-0.6zM2.7 9.1h0.6v0.6h-0.6zM-7.3 7.9h0.6v0.6h-0.6zM10.6 9.5h0.6v0.6h-0.6zM0.3 9.5h0.6v0.6h-0.6zM2.3 -9.0h0.6v0.6h-0.6zM-1.3 8.3h0.6v0.6h-0.6zM-14.9 1.6h0.6v0.6h-0.6zM1.4 -9.8h0.6v0.6h-0.6zM-0.8 8.0h0.6v0.6h-0.6zM-15.0 5.5h0.6v0.6h-0.6zM-7.2 6.9h0.6v0.6h-0.6zM2.3 9.6h0.6v0.6h-0.6zM-4.9 8.2h0.6v0.6h-0.6zM0.7 8.5h0.6v0.6h-0.6zM-9.4 2.2h0.6v0.6h-0.6zM-6.8 -6.1h0.6v0.6h-0.6zM-9.1 3.0h0.6v0.6h-0.6zM-7.9 -3.7h0.6v0.6h-0.6zM8.8 -2.1h0.6v0.6h-0.6zM11.9 -5.7h0.6v0.6h-0.6zM10.2 0.7h0.6v0.6h-0.6zM-9.1 3.2h0.6v0.6h-0.6zM-2.3 10.8h0.6v0.6h-0.6zM8.1 -6.0h0.6v0.6h-0.6zM7.9 -4.4h0.6v0.6h-0.6zM9.3 5.9h0.6v0.6h-0.6zM3.8 11.5h0.6v0.6h-0.6zM-1.9 7.8h0.6v0.6h-0.6zM8.0 1.1h0.6v0.6h-0.6zM-0.6 -10.5h0.6v0.6h-0.6zM-9.1 -0.7h0.6v0.6h-0.6zM-5.8 7.0h0.6v0.6h-0.6zM8.7 -0.2h0.6v0.6h-0.6zM-0.5 9.1h0.6v0.6h-0.6zM5.4 -7.0h0.6v0.6h-0.6zM-4.3 -8.6h0.6v0.6h-0.6zM1.5 9.6h0.6v0.6h-0.6zM-9.8 -0.5h0.6v0.6h-0.6zM11.2 0.9h0.6v0.6h-0.6zM7.4 5.4h0.6v0.6h-0.6zM-6.4 6.1h0.6v0.6h-0.6zM-3.1 -8.5h0.6v0.6h-0.6zM7.9 1.6h0.6v0.6h-0.6zM-10.1 5.8h0.6v0.6h-0.6zM10.6 5.1h0.6v0.6h-0.6zM-8.2 3.0h0.6v0.6h-0.6zM-7.3 7.3h0.6v0.6h-0.6zM-9.0 -2.9h0.6v0.6h-0.6zM10.4 4.6h0.6v0.6h-0.6zM-6.0 -7.8h0.6v0.6h-0.6zM-6.9 4.9h0.6v0.6h-0.6zM-8.2 2.8h0.6v0.6h-0.6zM9.6 -4.3h0.6v0.6h-0.6zM-10.7 3.5h0.6v0.6h-0.6zM-8.5 -6.0h0.6v0.6h-0.6zM7.4 4.3h0.6v0.6h-0.6zM10.2 -1.6h0.6v0.6h-0.6zM11.7 -1.0h0.6v0.6h-0.6zM-0.7 8.9h0.6v0.6h-0.6zM8.5 4.5h0.6v0.6h-0.6zM-3.0 -8.0h0.6v0.6h-0.6zM4.3 11.0h0.6v0.6h-0.6zM8.2 -2.2h0.6v0.6h-0.6zM8.5 -3.9h0.6v0.6h-0.6zM2.6 -9.5h0.6v0.6h-0.6zM1.3 9.3h0.6v0.6h-0.6zM-4.9 8.2h0.6v0.6h-0.6zM9.6 0.5h0.6v0.6h-0.6zM10.1 -1.0h0.6v0.6h-0.6zM6.6 6.5h0.6v0.6h-0.6zM-9.0 -3.1h0.6v0.6h-0.6zM-8.1 -4.2h0.6v0.6h-0.6zM7.8 -4.6h0.6v0.6h-0.6zM-3.4 -11.4h0.6v0.6h-0.6zM7.7 -3.6h0.6v0.6h-0.6zM-4.6 -10.0h0.6v0.6h-0.6zM15.8 -5.6h0.6v0.6h-0.6zM-8.7 2.7h0.6v0.6h-0.6zM-10.9 6.2h0.6v0.6h-0.6zM-8.6 4.7h0.6v0.6h-0.6zM-8.7 4.1h0.6v0.6h-0.6zM-4.5 -12.6h0.6v0.6h-0.6zM9.8 -10.9h0.6v0.6h-0.6zM-2.2 10.8h0.6v0.6h-0.6zM4.6 -9.7h0.6v0.6h-0.6zM-2.2 -13.3h0.6v0.6h-0.6zM-3.7 -11.9h0.6v0.6h-0.6zM-5.7 -7.5h0.6v0.6h-0.6zM8.0 -2.8h0.6v0.6h-0.6zM-5.4 7.1h0.6v0.6h-0.6zM1.5 -11.9h0.6v0.6h-0.6zM-12.0 0.2h0.6v0.6h-0.6zM4.7 7.9h0.6v0.6h-0.6zM6.2 5.9h0.6v0.6h-0.6zM3.7 -8.7h0.6v0.6h-0.6zM2.2 11.3h0.6v0.6h-0.6zM9.7 -0.2h0.6v0.6h-0.6zM0.6 -8.9h0.6v0.6h-0.6zM-6.6 -7.3h0.6v0.6h-0.6zM5.4 -10.0h0.6v0.6h-0.6zM-4.2 -9.2h0.6v0.6h-0.6zM6.2 7.1h0.6v0.6h-0.6zM6.0 5.7h0.6v0.6h-0.6zM7.2 3.4h0.6v0.6h-0.6zM-5.6 -9.0h0.6v0.6h-0.6zM0.1 8.5h0.6v0.6h-0.6zM-2.3 -8.8h0.6v0.6h-0.6zM10.1 -5.9h0.6v0.6h-0.6zM-8.9 -0.4h0.6v0.6h-0.6zM-7.4 6.1h0.6v0.6h-0.6zM-1.0 -11.6h0.6v0.6h-0.6zM9.0 -6.0h0.6v0.6h-0.6zM5.0 -7.9h0.6v0.6h-0.6zM-6.9 6.4h0.6v0.6h-0.6zM1.6 7.8h0.6v0.6h-0.6zM2.7 8.2h0.6v0.6h-0.6zM-9.6 -5.2h0.6v0.6h-0.6zM5.3 10.1h0.6v0.6h-0.6zM-13.4 4.3h0.6v0.6h-0.6zM-5.2 6.9h0.6v0.6h-0.6zM-8.5 7.4h0.6v0.6h-0.6zM0.9 9.3h0.6v0.6h-0.6zM5.6 -6.7h0.6v0.6h-0.6zM-5.3 6.5h0.6v0.6h-0.6zM-8.5 -4.4h0.6v0.6h-0.6zM2.0 8.2h0.6v0.6h-0.6zM-8.3 -2.9h0.6v0.6h-0.6zM5.9 5.3h0.6v0.6h-0.6zM-1.6 10.0h0.6v0.6h-0.6zM11.6 -4.2h0.6v0.6h-0.6zM-10.0 4.2h0.6v0.6h-0.6zM9.1 1.1h0.6v0.6h-0.6zM-6.5 9.0h0.6v0.6h-0.6zM6.6 7.5h0.6v0.6h-0.6zM9.0 -5.0h0.6v0.6h-0.6zM-13.0 6.1h0.6v0.6h-0.6zM-7.4 -7.2h0.6v0.6h-0.6zM-10.4 7.2h0.6v0.6h-0.6zM-7.5 10.5h0.6v0.6h-0.6zM-11.7 -3.7h0.6v0.6h-0.6zM6.9 6.2h0.6v0.6h-0.6zM1.0 -8.5h0.6v0.6h-0.6zM-7.4 4.1h0.6v0.6h-0.6zM10.9 2.8h0.6v0.6h-0.6zM-7.0 5.7h0.6v0.6h-0.6zM-9.3 1.3h0.6v0.6h-0.6zM8.4 4.4h0.6v0.6h-0.6zM11.7 -2.2h0.6v0.6h-0.6zM-7.9 -5.5h0.6v0.6h-0.6zM7.9 -0.6h0.6v0.6h-0.6zM-10.6 6.0h0.6v0.6h-0.6zM16.0 5.8h0.6v0.6h-0.6zM9.5 7.3h0.6v0.6h-0.6zM-9.8 -4.8h0.6v0.6h-0.6zM-1.4 -8.7h0.6v0.6h-0.6zM-7.4 -5.2h0.6v0.6h-0.6zM3.8 -8.4h0.6v0.6h-0.6zM-1.7 -8.5h0.6v0.6h-0.6zM-5.5 -7.3h0.6v0.6h-0.6zM-8.7 0.0h0.6v0.6h-0.6zM8.0 -8.7h0.6v0.6h-0.6zM7.1 -6.2h0.6v0.6h-0.6zM-3.2 -8.8h0.6v0.6h-0.6zM0.6 8.6h0.6v0.6h-0.6zM6.2 -7.8h0.6v0.6h-0.6zM8.0 3.5h0.6v0.6h-0.6zM8.7 -7.6h0.6v0.6h-0.6zM-0.3 11.2h0.6v0.6h-0.6zM-8.8 3.1h0.6v0.6h-0.6zM-6.1 10.2h0.6v0.6h-0.6zM-1.7 8.3h0.6v0.6h-0.6zM-10.4 3.8h0.6v0.6h-0.6zM1.3 -11.0h0.6v0.6h-0.6zM-10.4 4.8h0.6v0.6h-0.6zM-0.4 13.5h0.6v0.6h-0.6zM6.6 7.5h0.6v0.6h-0.6zM1.9 8.7h0.6v0.6h-0.6zM1.9 -8.8h0.6v0.6h-0.6zM-3.6 -10.1h0.6v0.6h-0.6zM8.0 -1.3h0.6v0.6h-0.6zM4.5 -13.3h0.6v0.6h-0.6zM12.1 7.2h0.6v0.6h-0.6zM-10.9 4.2h0.6v0.6h-0.6zM8.8 2.2h0.6v0.6h-0.6zM-3.0 9.1h0.6v0.6h-0.6zM-3.8 -8.5h0.6v0.6h-0.6zM-5.9 9.9h0.6v0.6h-0.6zM7.1 -8.8h0.6v0.6h-0.6zM8.0 5.6h0.6v0.6h-0.6zM-2.7 -8.9h0.6v0.6h-0.6zM2.6 -10.2h0.6v0.6h-0.6zM5.1 7.5h0.6v0.6h-0.6zM-9.2 1.9h0.6v0.6h-0.6zM-8.5 -1.0h0.6v0.6h-0.6zM5.1 -6.8h0.6v0.6h-0.6zM-1.8 10.0h0.6v0.6h-0.6zM9.2 5.7h0.6v0.6h-0.6zM-8.7 -2.0h0.6v0.6h-0.6zM6.4 -5.1h0.6v0.6h-0.6zM-2.5 12.2h0.6v0.6h-0.6zM-9.2 0.4h0.6v0.6h-0.6zM-7.1 7.5h0.6v0.6h-0.6zM-8.6 -3.8h0.6v0.6h-0.6zM-12.8 -2.6h0.6v0.6h-0.6zM10.4 0.2h0.6v0.6h-0.6zM7.7 -5.5h0.6v0.6h-0.6zM-8.1 10.9h0.6v0.6h-0.6zM9.1 -1.1h0.6v0.6h-0.6zM6.3 -8.2h0.6v0.6h-0.6zM5.3 -7.6h0.6v0.6h-0.6zM7.0 5.9h0.6v0.6h-0.6zM-6.0 9.0h0.6v0.6h-0.6zM5.5 11.3h0.6v0.6h-0.6zM-8.2 -5.3h0.6v0.6h-0.6zM-1.8 -14.6h0.6v0.6h-0.6zM-13.1 12.8h0.6v0.6h-0.6zM-12.5 -3.0h0.6v0.6h-0.6zM-10.6 -5.8h0.6v0.6h-0.6zM9.4 -3.7h0.6v0.6h-0.6zM-0.7 9.0h0.6v0.6h-0.6zM8.7 -0.4h0.6v0.6h-0.6zM-8.9 2.0h0.6v0.6h-0.6zM10.9 -2.5h0.6v0.6h-0.6zM-14.3 -1.9h0.6v0.6h-0.6zM-9.4 -3.8h0.6v0.6h-0.6zM2.8 9.1h0.6v0.6h-0.6zM-0.6 8.8h0.6v0.6h-0.6zM6.4 -8.2h0.6v0.6h-0.6zM-12.3 -7.7h0.6v0.6h-0.6zM-11.0 3.0h0.6v0.6h-0.6zM6.2 4.8h0.6v0.6h-0.6zM-10.4 -3.6h0.6v0.6h-0.6zM-6.1 -8.5h0.6v0.6h-0.6zM-1.0 8.4h0.6v0.6h-0.6zM-4.7 9.0h0.6v0.6h-0.6zM-14.4 5.5h0.6v0.6h-0.6zM9.5 -5.7h0.6v0.6h-0.6zM-1.5 10.9h0.6v0.6h-0.6zM12.3 5.4h0.6v0.6h-0.6zM7.2 -5.6h0.6v0.6h-0.6zM2.9 -8.5h0.6v0.6h-0.6zM4.9 -8.2h0.6v0.6h-0.6zM0.9 -9.2h0.6v0.6h-0.6zM-13.2 -7.5h0.6v0.6h-0.6zM1.5 -11.6h0.6v0.6h-0.6zM-7.4 4.0h0.6v0.6h-0.6zM-3.4 -10.3h0.6v0.6h-0.6zM-3.8 8.7h0.6v0.6h-0.6zM5.7 7.7h0.6v0.6h-0.6zM-8.1 -8.9h0.6v0.6h-0.6zM-11.2 1.0h0.6v0.6h-0.6zM-7.8 -4.8h0.6v0.6h-0.6zM8.5 -1.4h0.6v0.6h-0.6zM9.2 0.8h0.6v0.6h-0.6zM2.3 8.6h0.6v0.6h-0.6zM9.2 0.7h0.6v0.6h-0.6zM6.9 -8.4h0.6v0.6h-0.6zM7.3 3.6h0.6v0.6h-0.6zM2.7 9.1h0.6v0.6h-0.6zM3.7 -8.9h0.6v0.6h-0.6zM-8.9 7.6h0.6v0.6h-0.6zM-10.0 -1.8h0.6v0.6h-0.6zM7.2 3.9h0.6v0.6h-0.6zM7.6 -12.8h0.6v0.6h-0.6zM12.5 -3.7h0.6v0.6h-0.6zM0.7 8.4h0.6v0.6h-0.6zM18.1 -1.5h0.6v0.6h-0.6zM-12.6 -5.1h0.6v0.6h-0.6zM-3.8 7.2h0.6v0.6h-0.6zM-9.2 0.1h0.6v0.6h-0.6zM-11.7 -6.2h0.6v0.6h-0.6zM12.0 2.5h0.6v0.6h-0.6zM7.3 3.1h0.6v0.6h-0.6zM-2.6 10.6h0.6v0.6h-0.6zM1.9 8.3h0.6v0.6h-0.6zM4.9 8.4h0.6v0.6h-0.6zM-9.2 -4.8h0.6v0.6h-0.6zM-1.3 10.9h0.6v0.6h-0.6zM-8.0 -6.6h0.6v0.6h-0.6zM9.3 2.9h0.6v0.6h-0.6zM-3.7 8.5h0.6v0.6h-0.6zM10.2 -4.5h0.6v0.6h-0.6zM-0.6 7.9h0.6v0.6h-0.6zM-13.4 -0.8h0.6v0.6h-0.6zM-9.0 -1.3h0.6v0.6h-0.6zM-8.9 -10.2h0.6v0.6h-0.6zM9.5 -2.2h0.6v0.6h-0.6zM6.0 5.9h0.6v0.6h-0.6zM-7.3 -7.2h0.6v0.6h-0.6zM-1.2 9.7h0.6v0.6h-0.6zM6.5 5.4h0.6v0.6h-0.6zM-8.3 9.8h0.6v0.6h-0.6zM-9.3 -4.2h0.6v0.6h-0.6zM-13.4 -7.2h0.6v0.6h-0.6zM5.3 -9.5h0.6v0.6h-0.6zM9.4 1.2h0.6v0.6h-0.6zM-10.5 -5.3h0.6v0.6h-0.6zM-10.8 -4.1h0.6v0.6h-0.6zM7.3 -4.0h0.6v0.6h-0.6zM8.6 -4.9h0.6v0.6h-0.6zM-5.8 -7.5h0.6v0.6h-0.6zM5.9 7.6h0.6v0.6h-0.6zM6.8 -5.1h0.6v0.6h-0.6zM8.7 4.3h0.6v0.6h-0.6zM-11.6 -3.4h0.6v0.6h-0.6zM-2.1 12.9h0.6v0.6h-0.6zM-1.2 8.2h0.6v0.6h-0.6zM-10.4 0.6h0.6v0.6h-0.6zM-3.9 8.8h0.6v0.6h-0.6zM15.7 3.8h0.6v0.6h-0.6zM5.1 7.9h0.6v0.6h-0.6zM-2.2 8.5h0.6v0.6h-0.6zM0.1 -9.9h0.6v0.6h-0.6zM9.7 -4.4h0.6v0.6h-0.6zM-12.8 -0.4h0.6v0.6h-0.6zM-2.2 11.1h0.6v0.6h-0.6zM8.8 2.8h0.6v0.6h-0.6zM6.9 -8.1h0.6v0.6h-0.6zM9.2 4.6h0.6v0.6h-0.6zM4.3 6.8h0.6v0.6h-0.6zM8.9 -2.1h0.6v0.6h-0.6zM2.8 -12.0h0.6v0.6h-0.6zM3.8 -8.4h0.6v0.6h-0.6zM-4.8 8.5h0.6v0.6h-0.6zM10.5 5.4h0.6v0.6h-0.6zM-12.5 2.8h0.6v0.6h-0.6zM10.6 3.9h0.6v0.6h-0.6zM6.4 7.6h0.6v0.6h-0.6zM-7.7 3.7h0.6v0.6h-0.6zM-2.7 11.8h0.6v0.6h-0.6zM1.2 -10.2h0.6v0.6h-0.6zM12.0 -3.8h0.6v0.6h-0.6zM8.2 -8.8h0.6v0.6h-0.6zM9.1 9.6h0.6v0.6h-0.6zM7.0 6.7h0.6v0.6h-0.6zM-9.4 -4.9h0.6v0.6h-0.6zM-1.9 9.0h0.6v0.6h-0.6zM-9.4 -1.6h0.6v0.6h-0.6zM-3.4 8.2h0.6v0.6h-0.6zM4.2 10.4h0.6v0.6h-0.6zM7.0 -6.1h0.6v0.6h-0.6zM-1.1 10.6h0.6v0.6h-0.6zM11.7 -2.7h0.6v0.6h-0.6zM-5.2 7.6h0.6v0.6h-0.6zM-4.4 -8.9h0.6v0.6h-0.6zM-7.3 5.2h0.6v0.6h-0.6zM7.6 5.2h0.6v0.6h-0.6zM8.5 5.1h0.6v0.6h-0.6zM-11.8 -4.3h0.6v0.6h-0.6zM-4.4 -11.0h0.6v0.6h-0.6zM7.0 -7.2h0.6v0.6h-0.6zM3.1 7.3h0.6v0.6h-0.6zM-3.5 9.2h0.6v0.6h-0.6zM12.5 0.7h0.6v0.6h-0.6zM5.3 7.7h0.6v0.6h-0.6zM-2.9 -9.0h0.6v0.6h-0.6zM-0.6 -8.8h0.6v0.6h-0.6zM4.4 8.0h0.6v0.6h-0.6zM8.2 -12.1h0.6v0.6h-0.6zM-8.6 8.9h0.6v0.6h-0.6zM11.8 2.6h0.6v0.6h-0.6zM-13.2 0.3h0.6v0.6h-0.6zM8.9 -5.6h0.6v0.6h-0.6zM11.3 0.3h0.6v0.6h-0.6zM8.0 3.8h0.6v0.6h-0.6zM-2.7 -9.9h0.6v0.6h-0.6zM-10.8 2.0h0.6v0.6h-0.6zM5.0 -15.5h0.6v0.6h-0.6zM-1.0 9.3h0.6v0.6h-0.6zM-0.6 9.0h0.6v0.6h-0.6zM8.5 1.5h0.6v0.6h-0.6zM2.7 -9.9h0.6v0.6h-0.6zM-0.8 11.3h0.6v0.6h-0.6zM7.0 5.4h0.6v0.6h-0.6zM-0.3 12.3h0.6v0.6h-0.6zM4.1 -7.9h0.6v0.6h-0.6zM-4.0 7.0h0.6v0.6h-0.6zM-0.3 -9.2h0.6v0.6h-0.6zM-10.7 8.6h0.6v0.6h-0.6zM-1.1 12.1h0.6v0.6h-0.6zM6.0 13.6h0.6v0.6h-0.6zM-7.5 -5.4h0.6v0.6h-0.6zM7.1 6.0h0.6v0.6h-0.6zM-7.2 8.0h0.6v0.6h-0.6zM8.8 -10.7h0.6v0.6h-0.6zM6.8 5.1h0.6v0.6h-0.6zM2.9 -9.4h0.6v0.6h-0.6zM11.6 3.3h0.6v0.6h-0.6zM1.7 10.6h0.6v0.6h-0.6zM9.4 3.6h0.6v0.6h-0.6zM-10.3 -1.6h0.6v0.6h-0.6zM-9.0 -9.5h0.6v0.6h-0.6zM-7.6 6.9h0.6v0.6h-0.6zM5.3 6.8h0.6v0.6h-0.6zM8.5 -7.2h0.6v0.6h-0.6zM9.1 1.1h0.6v0.6h-0.6zM-0.0 -10.6h0.6v0.6h-0.6zM7.9 -1.8h0.6v0.6h-0.6zM2.9 -8.0h0.6v0.6h-0.6zM4.9 9.7h0.6v0.6h-0.6zM-0.7 8.2h0.6v0.6h-0.6zM9.2 0.3h0.6v0.6h-0.6zM-8.8 -1.1h0.6v0.6h-0.6zM-0.5 -10.7h0.6v0.6h-0.6zM-9.6 2.3h0.6v0.6h-0.6zM-0.6 -9.0h0.6v0.6h-0.6zM-9.0 5.6h0.6v0.6h-0.6zM-4.7 -7.5h0.6v0.6h-0.6zM-7.9 -3.8h0.6v0.6h-0.6zM10.8 12.2h0.6v0.6h-0.6zM-8.8 0.4h0.6v0.6h-0.6zM-7.3 -8.8h0.6v0.6h-0.6zM7.0 4.3h0.6v0.6h-0.6zM-9.2 -0.8h0.6v0.6h-0.6zM7.5 6.8h0.6v0.6h-0.6zM-3.4 -11.6h0.6v0.6h-0.6zM-11.8 -4.7h0.6v0.6h-0.6zM-12.4 -4.3h0.6v0.6h-0.6zM-8.7 -0.6h0.6v0.6h-0.6zM11.3 -4.0h0.6v0.6h-0.6zM-7.5 -6.6h0.6v0.6h-0.6zM5.1 -11.8h0.6v0.6h-0.6zM8.2 -6.7h0.6v0.6h-0.6zM-3.8 8.4h0.6v0.6h-0.6zM-14.0 -4.0h0.6v0.6h-0.6zM11.7 -3.6h0.6v0.6h-0.6zM2.6 8.0h0.6v0.6h-0.6zM-8.7 0.5h0.6v0.6h-0.6zM-7.7 -8.9h0.6v0.6h-0.6zM-8.5 13.5h0.6v0.6h-0.6zM-5.5 7.9h0.6v0.6h-0.6zM3.0 -8.6h0.6v0.6h-0.6zM10.8 -3.5h0.6v0.6h-0.6zM6.3 4.8h0.6v0.6h-0.6zM-1.2 8.5h0.6v0.6h-0.6zM-6.2 9.6h0.6v0.6h-0.6zM-3.9 8.7h0.6v0.6h-0.6zM9.9 -9.1h0.6v0.6h-0.6zM10.1 4.3h0.6v0.6h-0.6zM13.1 -3.6h0.6v0.6h-0.6zM-11.5 -8.0h0.6v0.6h-0.6zM8.7 6.5h0.6v0.6h-0.6zM10.1 4.1h0.6v0.6h-0.6zM-0.4 -9.5h0.6v0.6h-0.6zM1.6 -10.5h0.6v0.6h-0.6zM-3.7 -8.2h0.6v0.6h-0.6zM-8.1 14.0h0.6v0.6h-0.6zM0.3 -9.9h0.6v0.6h-0.6zM6.7 8.2h0.6v0.6h-0.6zM-8.2 5.7h0.6v0.6h-0.6zM12.2 2.6h0.6v0.6h-0.6zM-9.6 -2.6h0.6v0.6h-0.6zM-7.8 -9.5h0.6v0.6h-0.6zM-4.9 -10.4h0.6v0.6h-0.6zM6.6 5.9h0.6v0.6h-0.6zM-5.1 9.9h0.6v0.6h-0.6zM3.1 -12.9h0.6v0.6h-0.6zM-8.9 -1.6h0.6v0.6h-0.6zM-4.8 -10.1h0.6v0.6h-0.6zM-9.8 0.7h0.6v0.6h-0.6zM7.5 11.1h0.6v0.6h-0.6zM11.5 7.2h0.6v0.6h-0.6zM-8.7 0.6h0.6v0.6h-0.6zM-8.8 8.4h0.6v0.6h-0.6zM-5.1 -9.6h0.6v0.6h-0.6zM13.2 -3.1h0.6v0.6h-0.6zM7.4 -7.2h0.6v0.6h-0.6zM-1.0 -9.2h0.6v0.6h-0.6zM-2.2 -18.1h0.6v0.6h-0.6zM-4.7 7.7h0.6v0.6h-0.6zM2.7 16.2h0.6v0.6h-0.6zM-8.2 3.9h0.6v0.6h-0.6zM7.9 -1.8h0.6v0.6h-0.6zM-2.9 -9.3h0.6v0.6h-0.6zM10.5 -6.3h0.6v0.6h-0.6zM-5.9 6.4h0.6v0.6h-0.6zM3.8 -7.7h0.6v0.6h-0.6zM-4.7 7.2h0.6v0.6h-0.6zM-8.0 7.2h0.6v0.6h-0.6zM7.8 -3.5h0.6v0.6h-0.6zM-1.9 -8.5h0.6v0.6h-0.6zM6.0 -8.4h0.6v0.6h-0.6zM-13.8 3.4h0.6v0.6h-0.6zM-9.9 -10.1h0.6v0.6h-0.6zM-10.7 -13.5h0.6v0.6h-0.6zM-6.0 -7.8h0.6v0.6h-0.6zM-1.7 -9.6h0.6v0.6h-0.6zM-8.6 4.8h0.6v0.6h-0.6zM13.7 5.3h0.6v0.6h-0.6zM0.6 -10.4h0.6v0.6h-0.6zM-0.7 -8.6h0.6v0.6h-0.6zM-10.7 -3.6h0.6v0.6h-0.6zM12.8 0.4h0.6v0.6h-0.6zM8.6 -6.1h0.6v0.6h-0.6zM-8.7 -4.5h0.6v0.6h-0.6zM6.2 6.8h0.6v0.6h-0.6zM10.1 4.3h0.6v0.6h-0.6zM7.6 -7.9h0.6v0.6h-0.6zM-7.9 5.4h0.6v0.6h-0.6zM-5.8 -11.9h0.6v0.6h-0.6zM-5.7 6.7h0.6v0.6h-0.6zM7.6 -6.7h0.6v0.6h-0.6zM-12.2 2.7h0.6v0.6h-0.6zM2.9 8.8h0.6v0.6h-0.6zM-9.2 -1.1h0.6v0.6h-0.6zM-1.8 -8.4h0.6v0.6h-0.6zM-9.0 1.4h0.6v0.6h-0.6zM-12.4 7.2h0.6v0.6h-0.6zM-9.1 2.5h0.6v0.6h-0.6zM-2.9 -9.2h0.6v0.6h-0.6zM8.8 0.6h0.6v0.6h-0.6zM-0.8 -8.5h0.6v0.6h-0.6zM-8.2 -8.0h0.6v0.6h-0.6zM11.4 5.3h0.6v0.6h-0.6zM-2.3 -11.0h0.6v0.6h-0.6zM7.5 -6.2h0.6v0.6h-0.6zM-8.4 10.5h0.6v0.6h-0.6zM-3.4 11.5h0.6v0.6h-0.6zM-12.1 6.1h0.6v0.6h-0.6zM-2.3 9.0h0.6v0.6h-0.6zM-13.2 5.9h0.6v0.6h-0.6zM-11.5 -4.6h0.6v0.6h-0.6zM-3.5 -8.1h0.6v0.6h-0.6zM7.3 5.7h0.6v0.6h-0.6zM-14.5 8.0h0.6v0.6h-0.6zM-8.1 -6.5h0.6v0.6h-0.6zM2.7 -8.9h0.6v0.6h-0.6zM-6.8 -6.9h0.6v0.6h-0.6zM8.2 8.2h0.6v0.6h-0.6zM-4.4 10.7h0.6v0.6h-0.6zM-12.2 -0.6h0.6v0.6h-0.6zM-3.8 9.7h0.6v0.6h-0.6zM9.5 -3.7h0.6v0.6h-0.6zM-7.4 5.7h0.6v0.6h-0.6zM4.2 -7.3h0.6v0.6h-0.6zM11.1 -1.3h0.6v0.6h-0.6zM2.5 7.6h0.6v0.6h-0.6zM14.6 -10.0h0.6v0.6h-0.6zM-8.1 -12.1h0.6v0.6h-0.6zM5.0 -10.8h0.6v0.6h-0.6zM7.2 5.7h0.6v0.6h-0.6zM7.9 4.3h0.6v0.6h-0.6zM10.0 -14.9h0.6v0.6h-0.6zM7.0 7.5h0.6v0.6h-0.6zM-9.7 -2.0h0.6v0.6h-0.6zM-3.7 7.4h0.6v0.6h-0.6zM4.6 6.6h0.6v0.6h-0.6zM-0.6 -12.5h0.6v0.6h-0.6zM9.9 -2.1h0.6v0.6h-0.6zM4.9 7.9h0.6v0.6h-0.6zM6.2 -7.1h0.6v0.6h-0.6zM12.4 -3.1h0.6v0.6h-0.6zM-12.3 8.6h0.6v0.6h-0.6zM-2.6 -10.3h0.6v0.6h-0.6zM-2.7 9.7h0.6v0.6h-0.6zM-10.4 -4.9h0.6v0.6h-0.6zM-4.2 -10.5h0.6v0.6h-0.6zM-8.9 1.5h0.6v0.6h-0.6zM-2.9 -11.0h0.6v0.6h-0.6zM0.9 7.9h0.6v0.6h-0.6zM-10.3 2.3h0.6v0.6h-0.6zM9.2 3.1h0.6v0.6h-0.6zM-10.1 3.2h0.6v0.6h-0.6zM-8.8 4.6h0.6v0.6h-0.6zM-6.9 13.7h0.6v0.6h-0.6zM-9.6 8.0h0.6v0.6h-0.6zM9.8 2.7h0.6v0.6h-0.6zM-9.1 1.6h0.6v0.6h-0.6zM8.6 1.4h0.6v0.6h-0.6zM-1.6 7.9h0.6v0.6h-0.6zM3.2 -8.5h0.6v0.6h-0.6zM-4.7 -8.7h0.6v0.6h-0.6zM-7.4 4.5h0.6v0.6h-0.6zM7.9 -1.7h0.6v0.6h-0.6zM-10.5 6.3h0.6v0.6h-0.6zM8.1 -4.1h0.6v0.6h-0.6zM-5.6 -8.1h0.6v0.6h-0.6zM7.5 9.2h0.6v0.6h-0.6zM0.5 -10.9h0.6v0.6h-0.6zM-2.3 8.9h0.6v0.6h-0.6zM5.0 -11.0h0.6v0.6h-0.6zM14.1 -3.9h0.6v0.6h-0.6zM-6.9 4.9h0.6v0.6h-0.6zM-10.6 -2.9h0.6v0.6h-0.6zM-9.9 3.3h0.6v0.6h-0.6zM-8.6 4.2h0.6v0.6h-0.6zM8.2 0.5h0.6v0.6h-0.6zM9.5 2.3h0.6v0.6h-0.6zM-13.3 -1.0h0.6v0.6h-0.6zM-3.2 -15.4h0.6v0.6h-0.6zM13.3 -6.1h0.6v0.6h-0.6zM-7.4 -5.2h0.6v0.6h-0.6zM9.1 1.6h0.6v0.6h-0.6zM-3.3 -8.2h0.6v0.6h-0.6zM10.4 -2.7h0.6v0.6h-0.6zM-10.8 4.3h0.6v0.6h-0.6zM-3.6 10.9h0.6v0.6h-0.6zM6.3 -6.9h0.6v0.6h-0.6zM4.3 -10.4h0.6v0.6h-0.6zM5.2 6.3h0.6v0.6h-0.6zM3.3 7.9h0.6v0.6h-0.6zM4.1 6.9h0.6v0.6h-0.6zM-8.4 -3.5h0.6v0.6h-0.6zM10.9 1.9h0.6v0.6h-0.6zM-3.1 -9.3h0.6v0.6h-0.6zM7.4 -5.8h0.6v0.6h-0.6zM-8.7 4.1h0.6v0.6h-0.6zM3.8 7.5h0.6v0.6h-0.6zM-2.1 -11.3h0.6v0.6h-0.6zM-7.7 -7.7h0.6v0.6h-0.6zM-7.0 -5.7h0.6v0.6h-0.6zM7.3 6.4h0.6v0.6h-0.6zM2.6 -10.5h0.6v0.6h-0.6zM-12.3 -1.7h0.6v0.6h-0.6zM3.2 8.8h0.6v0.6h-0.6zM-8.8 -1.4h0.6v0.6h-0.6zM1.8 12.0h0.6v0.6h-0.6zM-9.4 -7.1h0.6v0.6h-0.6zM-2.7 10.5h0.6v0.6h-0.6zM8.6 2.3h0.6v0.6h-0.6zM-11.0 -8.3h0.6v0.6h-0.6zM-2.3 -11.2h0.6v0.6h-0.6zM-7.7 9.7h0.6v0.6h-0.6zM1.2 -11.4h0.6v0.6h-0.6zM-1.9 9.8h0.6v0.6h-0.6zM-1.1 10.3h0.6v0.6h-0.6zM6.6 6.0h0.6v0.6h-0.6zM12.1 -3.6h0.6v0.6h-0.6zM-2.5 11.2h0.6v0.6h-0.6zM7.5 -5.3h0.6v0.6h-0.6zM1.9 9.7h0.6v0.6h-0.6zM1.7 9.0h0.6v0.6h-0.6zM8.7 -1.9h0.6v0.6h-0.6zM11.8 -5.8h0.6v0.6h-0.6zM-7.8 4.2h0.6v0.6h-0.6zM-9.9 -8.0h0.6v0.6h-0.6zM-9.1 -3.0h0.6v0.6h-0.6zM6.0 5.2h0.6v0.6h-0.6zM-8.4 3.5h0.6v0.6h-0.6zM-0.4 11.3h0.6v0.6h-0.6zM2.4 -13.6h0.6v0.6h-0.6zM-1.5 10.1h0.6v0.6h-0.6zM-11.4 2.6h0.6v0.6h-0.6zM-14.9 -10.9h0.6v0.6h-0.6zM8.8 -1.8h0.6v0.6h-0.6z" fill="#0000FF"/></g></defs>
<rect x="150" y="146.6" width="77" height="77.2" fill="#fff"/>
<use href="#cl" x="171.7" y="169.2"/>
<use href="#cl" x="205.2" y="168.8"/>
<use href="#cl" x="171.8" y="200.8"/>
<use href="#cl" x="205.4" y="200.5"/>
<polygon points="50.6,18 52.06,22.49 56.78,22.49 52.96,25.27 54.42,29.76 50.6,26.98 46.78,29.76 48.24,25.27 44.42,22.49 49.14,22.49" fill="#76B7B2" stroke="none" stroke-width="0"/>
<polygon points="50.6,17 52.06,21.49 56.78,21.49 52.96,24.27 54.42,28.76 50.6,25.98 46.78,28.76 48.24,24.27 44.42,21.49 49.14,21.49" fill="#4E79A7" stroke="none" stroke-width="0"/>
<polygon points="50.6,17.7 52.06,22.19 56.78,22.19 52.96,24.97 54.42,29.46 50.6,26.68 46.78,29.46 48.24,24.97 44.42,22.19 49.14,22.19" fill="#B88CB8" stroke="none" stroke-width="0"/>
<polygon points="50.6,35.5 52.06,39.99 56.78,39.99 52.96,42.77 54.42,47.26 50.6,44.48 46.78,47.26 48.24,42.77 44.42,39.99 49.14,39.99" fill="#F29230" stroke="none" stroke-width="0"/>
<polygon points="50.6,30.7 52.06,35.19 56.78,35.19 52.96,37.97 54.42,42.46 50.6,39.68 46.78,42.46 48.24,37.97 44.42,35.19 49.14,35.19" fill="#E1545C" stroke="none" stroke-width="0"/>
<polygon points="50.6,25.6 52.06,30.09 56.78,30.09 52.96,32.87 54.42,37.36 50.6,34.58 46.78,37.36 48.24,32.87 44.42,30.09 49.14,30.09" fill="#52A84C" stroke="none" stroke-width="0"/>
<polygon points="65.36,50.7 66.82,55.19 71.54,55.19 67.72,57.97 69.18,62.46 65.36,59.68 61.54,62.46 63,57.97 59.18,55.19 63.9,55.19" fill="#4E79A7" stroke="none" stroke-width="0"/>
<polygon points="65.36,70.5 66.82,74.99 71.54,74.99 67.72,77.77 69.18,82.26 65.36,79.48 61.54,82.26 63,77.77 59.18,74.99 63.9,74.99" fill="#F29230" stroke="none" stroke-width="0"/>
<polygon points="65.36,57.5 66.82,61.99 71.54,61.99 67.72,64.77 69.18,69.26 65.36,66.48 61.54,69.26 63,64.77 59.18,61.99 63.9,61.99" fill="#76B7B2" stroke="none" stroke-width="0"/>
<polygon points="65.36,57.7 66.82,62.19 71.54,62.19 67.72,64.97 69.18,69.46 65.36,66.68 61.54,69.46 63,64.97 59.18,62.19 63.9,62.19" fill="#52A84C" stroke="none" stroke-width="0"/>
<polygon points="65.36,58.1 66.82,62.59 71.54,62.59 67.72,65.37 69.18,69.86 65.36,67.08 61.54,69.86 63,65.37 59.18,62.59 63.9,62.59" fill="#B88CB8" stroke="none" stroke-width="0"/>
<polygon points="65.36,69.9 66.82,74.39 71.54,74.39 67.72,77.17 69.18,81.66 65.36,78.88 61.54,81.66 63,77.17 59.18,74.39 63.9,74.39" fill="#E1545C" stroke="none" stroke-width="0"/>
<polygon points="80.12,85.7 81.58,90.19 86.3,90.19 82.48,92.97 83.94,97.46 80.12,94.68 76.3,97.46 77.76,92.97 73.94,90.19 78.66,90.19" fill="#4E79A7" stroke="none" stroke-width="0"/>
<polygon points="80.12,87.9 81.58,92.39 86.3,92.39 82.48,95.17 83.94,99.66 80.12,96.88 76.3,99.66 77.76,95.17 73.94,92.39 78.66,92.39" fill="#52A84C" stroke="none" stroke-width="0"/>
<polygon points="80.12,88.7 81.58,93.19 86.3,93.19 82.48,95.97 83.94,100.46 80.12,97.68 76.3,100.46 77.76,95.97 73.94,93.19 78.66,93.19" fill="#B88CB8" stroke="none" stroke-width="0"/>
<polygon points="80.12,102 81.58,106.49 86.3,106.49 82.48,109.27 83.94,113.76 80.12,110.98 76.3,113.76 77.76,109.27 73.94,106.49 78.66,106.49" fill="#F29230" stroke="none" stroke-width="0"/>
<polygon points="80.12,101.4 81.58,105.89 86.3,105.89 82.48,108.67 83.94,113.16 80.12,110.38 76.3,113.16 77.76,108.67 73.94,105.89 78.66,105.89" fill="#E1545C" stroke="none" stroke-width="0"/>
<polygon points="94.88,123.5 96.34,127.99 101.06,127.99 97.24,130.77 98.7,135.26 94.88,132.48 91.06,135.26 92.52,130.77 88.7,127.99 93.42,127.99" fill="#4E79A7" stroke="none" stroke-width="0"/>
<polygon points="94.88,122.9 96.34,127.39 101.06,127.39 97.24,130.17 98.7,134.66 94.88,131.88 91.06,134.66 92.52,130.17 88.7,127.39 93.42,127.39" fill="#52A84C" stroke="none" stroke-width="0"/>
<polygon points="94.88,132.5 96.34,136.99 101.06,136.99 97.24,139.77 98.7,144.26 94.88,141.48 91.06,144.26 92.52,139.77 88.7,136.99 93.42,136.99" fill="#F29230" stroke="none" stroke-width="0"/>
<polygon points="94.88,131.3 96.34,135.79 101.06,135.79 97.24,138.57 98.7,143.06 94.88,140.28 91.06,143.06 92.52,138.57 88.7,135.79 93.42,135.79" fill="#E1545C" stroke="none" stroke-width="0"/>
<polygon points="94.88,128.5 96.34,132.99 101.06,132.99 97.24,135.77 98.7,140.26 94.88,137.48 91.06,140.26 92.52,135.77 88.7,132.99 93.42,132.99" fill="#B88CB8" stroke="none" stroke-width="0"/>
<polygon points="109.64,155.7 111.1,160.19 115.83,160.19 112.01,162.97 113.46,167.46 109.64,164.68 105.82,167.46 107.28,162.97 103.46,160.19 108.18,160.19" fill="#76B7B2" stroke="none" stroke-width="0"/>
<polygon points="109.64,157.9 111.1,162.39 115.83,162.39 112.01,165.17 113.46,169.66 109.64,166.88 105.82,169.66 107.28,165.17 103.46,162.39 108.18,162.39" fill="#52A84C" stroke="none" stroke-width="0"/>
<polygon points="109.64,161.2 111.1,165.69 115.83,165.69 112.01,168.47 113.46,172.96 109.64,170.18 105.82,172.96 107.28,168.47 103.46,165.69 108.18,165.69" fill="#B88CB8" stroke="none" stroke-width="0"/>
<polygon points="109.64,167.1 111.1,171.59 115.83,171.59 112.01,174.37 113.46,178.86 109.64,176.08 105.82,178.86 107.28,174.37 103.46,171.59 108.18,171.59" fill="#F29230" stroke="none" stroke-width="0"/>
<polygon points="109.64,166.5 111.1,170.99 115.83,170.99 112.01,173.77 113.46,178.26 109.64,175.48 105.82,178.26 107.28,173.77 103.46,170.99 108.18,170.99" fill="#E1545C" stroke="none" stroke-width="0"/>
<polygon points="124.41,189.8 125.86,194.29 130.59,194.29 126.77,197.07 128.23,201.56 124.41,198.78 120.58,201.56 122.04,197.07 118.22,194.29 122.95,194.29" fill="#76B7B2" stroke="none" stroke-width="0"/>
<polygon points="124.41,194.2 125.86,198.69 130.59,198.69 126.77,201.47 128.23,205.96 124.41,203.18 120.58,205.96 122.04,201.47 118.22,198.69 122.95,198.69" fill="#52A84C" stroke="none" stroke-width="0"/>
<polygon points="124.41,197.5 125.86,201.99 130.59,201.99 126.77,204.77 128.23,209.26 124.41,206.48 120.58,209.26 122.04,204.77 118.22,201.99 122.95,201.99" fill="#F29230" stroke="none" stroke-width="0"/>
<polygon points="124.41,199.1 125.86,203.59 130.59,203.59 126.77,206.37 128.23,210.86 124.41,208.08 120.58,210.86 122.04,206.37 118.22,203.59 122.95,203.59" fill="#4E79A7" stroke="none" stroke-width="0"/>
<polygon points="124.41,201.5 125.86,205.99 130.59,205.99 126.77,208.77 128.23,213.26 124.41,210.48 120.58,213.26 122.04,208.77 118.22,205.99 122.95,205.99" fill="#E1545C" stroke="none" stroke-width="0"/>
<polygon points="124.41,197.7 125.86,202.19 130.59,202.19 126.77,204.97 128.23,209.46 124.41,206.68 120.58,209.46 122.04,204.97 118.22,202.19 122.95,202.19" fill="#B88CB8" stroke="none" stroke-width="0"/>
<polygon points="139.17,220.7 140.63,225.19 145.35,225.19 141.53,227.97 142.99,232.46 139.17,229.68 135.35,232.46 136.8,227.97 132.98,225.19 137.71,225.19" fill="#76B7B2" stroke="none" stroke-width="0"/>
<polygon points="163.59,54.2 173.79,54.2 168.69,63.8" fill="#F29230"/>
<polygon points="178.35,73.5 188.55,73.5 183.45,83.1" fill="#F29230"/>
<polygon points="193.11,87 203.31,87 198.21,96.6" fill="#F29230"/>
<polygon points="207.87,107.2 218.07,107.2 212.97,116.8" fill="#F29230"/>
<polygon points="222.63,132 232.83,132 227.73,141.6" fill="#F29230"/>
<polygon points="237.39,150.2 247.59,150.2 242.49,159.8" fill="#F29230"/>
<polygon points="252.15,167.7 262.35,167.7 257.25,177.3" fill="#F29230"/>
<circle cx="168.69" cy="52.7" r="4.5" fill="#B88CB8"/>
<circle cx="183.45" cy="64" r="4.5" fill="#B88CB8"/>
<circle cx="198.21" cy="80" r="4.5" fill="#B88CB8"/>
<circle cx="212.97" cy="106" r="4.5" fill="#B88CB8"/>
<circle cx="227.73" cy="122.6" r="4.5" fill="#B88CB8"/>
<circle cx="242.49" cy="140.4" r="4.5" fill="#B88CB8"/>
<circle cx="257.25" cy="158.2" r="4.5" fill="#B88CB8"/>
<circle cx="272.01" cy="176" r="4.5" fill="#B88CB8"/>
<polygon points="177.75,52.3 187.15,46.9 187.15,57.7" fill="#E1545C"/>
<polygon points="192.51,68.5 201.91,63.1 201.91,73.9" fill="#E1545C"/>
<polygon points="207.27,81 216.67,75.6 216.67,86.4" fill="#E1545C"/>
<polygon points="222.03,97 231.43,91.6 231.43,102.4" fill="#E1545C"/>
<polygon points="236.79,115.5 246.19,110.1 246.19,120.9" fill="#E1545C"/>
<polygon points="251.55,134.8 260.95,129.4 260.95,140.2" fill="#E1545C"/>
<polygon points="266.31,144 275.71,138.6 275.71,149.4" fill="#E1545C"/>
<polygon points="281.08,164 290.48,158.6 290.48,169.4" fill="#E1545C"/>
<rect x="180.05" y="61.6" width="6.8" height="6.8" fill="#76B7B2"/>
<rect x="194.81" y="73" width="6.8" height="6.8" fill="#76B7B2"/>
<rect x="209.57" y="86.9" width="6.8" height="6.8" fill="#76B7B2"/>
<rect x="224.33" y="104.5" width="6.8" height="6.8" fill="#76B7B2"/>
<rect x="239.09" y="119.3" width="6.8" height="6.8" fill="#76B7B2"/>
<rect x="253.85" y="133.6" width="6.8" height="6.8" fill="#76B7B2"/>
<rect x="268.62" y="144.6" width="6.8" height="6.8" fill="#76B7B2"/>
<rect x="283.38" y="155.1" width="6.8" height="6.8" fill="#76B7B2"/>
<polygon points="183.45,60.7 187.75,66.4 183.45,72.1 179.15,66.4" fill="#52A84C"/>
<polygon points="198.21,76.6 202.51,82.3 198.21,88 193.91,82.3" fill="#52A84C"/>
<polygon points="212.97,95.2 217.27,100.9 212.97,106.6 208.67,100.9" fill="#52A84C"/>
<polygon points="227.73,110.9 232.03,116.6 227.73,122.3 223.43,116.6" fill="#52A84C"/>
<polygon points="242.49,128.3 246.79,134 242.49,139.7 238.19,134" fill="#52A84C"/>
<polygon points="257.25,143.3 261.55,149 257.25,154.7 252.95,149" fill="#52A84C"/>
<polygon points="272.01,163.7 276.31,169.4 272.01,175.1 267.71,169.4" fill="#52A84C"/>
<polygon points="198.21,55.7 199.8,58.1 202.99,58.1 201.4,60.5 202.99,62.9 199.8,62.9 198.21,65.3 196.62,62.9 193.43,62.9 195.02,60.5 193.43,58.1 196.62,58.1" fill="#4E79A7" stroke="none" stroke-width="0"/>
<polygon points="212.97,76.6 214.56,79 217.75,79 216.16,81.4 217.75,83.8 214.56,83.8 212.97,86.2 211.38,83.8 208.19,83.8 209.78,81.4 208.19,79 211.38,79" fill="#4E79A7" stroke="none" stroke-width="0"/>
<polygon points="227.73,94.9 229.33,97.3 232.51,97.3 230.92,99.7 232.51,102.1 229.33,102.1 227.73,104.5 226.14,102.1 222.95,102.1 224.55,99.7 222.95,97.3 226.14,97.3" fill="#4E79A7" stroke="none" stroke-width="0"/>
<polygon points="242.49,112.2 244.09,114.6 247.27,114.6 245.68,117 247.27,119.4 244.09,119.4 242.49,121.8 240.9,119.4 237.71,119.4 239.31,117 237.71,114.6 240.9,114.6" fill="#4E79A7" stroke="none" stroke-width="0"/>
<polygon points="257.25,131 258.85,133.4 262.03,133.4 260.44,135.8 262.03,138.2 258.85,138.2 257.25,140.6 255.66,138.2 252.47,138.2 254.07,135.8 252.47,133.4 255.66,133.4" fill="#4E79A7" stroke="none" stroke-width="0"/>
<polygon points="272.01,142.2 273.61,144.6 276.8,144.6 275.2,147 276.8,149.4 273.61,149.4 272.01,151.8 270.42,149.4 267.23,149.4 268.83,147 267.23,144.6 270.42,144.6" fill="#4E79A7" stroke="none" stroke-width="0"/>
<polygon points="286.78,161.9 288.37,164.3 291.56,164.3 289.96,166.7 291.56,169.1 288.37,169.1 286.78,171.5 285.18,169.1 282,169.1 283.59,166.7 282,164.3 285.18,164.3" fill="#4E79A7" stroke="none" stroke-width="0"/>
<line x1="226.9" y1="187.4" x2="249.49" y2="175.02" stroke="#000" stroke-width="1.6"/>
<polygon points="253,173.1 249.77,177.61 247.46,173.4" fill="#000"/>
<rect x="201" y="11" width="130" height="16.2" fill="#fff"/>
<rect x="280" y="27" width="51" height="88.5" fill="#fff"/>
<polygon points="209.2,14.8 210.66,19.29 215.38,19.29 211.56,22.07 213.02,26.56 209.2,23.78 205.38,26.56 206.84,22.07 203.02,19.29 207.74,19.29" fill="#B88CB8" stroke="none" stroke-width="0"/>
<polygon points="225.5,14.8 226.96,19.29 231.68,19.29 227.86,22.07 229.32,26.56 225.5,23.78 221.68,26.56 223.14,22.07 219.32,19.29 224.04,19.29" fill="#52A84C" stroke="none" stroke-width="0"/>
<polygon points="241.9,14.8 243.36,19.29 248.08,19.29 244.26,22.07 245.72,26.56 241.9,23.78 238.08,26.56 239.54,22.07 235.72,19.29 240.44,19.29" fill="#4E79A7" stroke="none" stroke-width="0"/>
<polygon points="257.8,14.8 259.26,19.29 263.98,19.29 260.16,22.07 261.62,26.56 257.8,23.78 253.98,26.56 255.44,22.07 251.62,19.29 256.34,19.29" fill="#76B7B2" stroke="none" stroke-width="0"/>
<polygon points="273.6,14.8 275.06,19.29 279.78,19.29 275.96,22.07 277.42,26.56 273.6,23.78 269.78,26.56 271.24,22.07 267.42,19.29 272.14,19.29" fill="#E1545C" stroke="none" stroke-width="0"/>
<polygon points="288.3,14.8 289.76,19.29 294.48,19.29 290.66,22.07 292.12,26.56 288.3,23.78 284.48,26.56 285.94,22.07 282.12,19.29 286.84,19.29" fill="#F29230" stroke="none" stroke-width="0"/>
<text x="298.3" y="24.9" font-size="11.8" fill="#000" text-anchor="start" font-weight="normal">B to B</text>
<polygon points="283.6,33 293,33 288.3,41.8" fill="#F29230"/>
<circle cx="288.2" cy="50.7" r="4.1" fill="#B88CB8"/>
<polygon points="283,65.5 291.8,60.3 291.8,70.7" fill="#E1545C"/>
<rect x="284.7" y="77.4" width="6.4" height="6.4" fill="#76B7B2"/>
<polygon points="288.2,91.1 292.4,96 288.2,100.9 284,96" fill="#52A84C"/>
<polygon points="288.1,106 289.69,108.4 292.88,108.4 291.29,110.8 292.88,113.2 289.69,113.2 288.1,115.6 286.51,113.2 283.32,113.2 284.91,110.8 283.32,108.4 286.51,108.4" fill="#4E79A7" stroke="none" stroke-width="0"/>
<text x="298.3" y="40.3" font-size="11.8" fill="#000">TE<tspan font-size="8.6" dy="3.5">0</tspan></text>
<text x="298.3" y="55.2" font-size="11.8" fill="#000">TM<tspan font-size="8.6" dy="3.5">0</tspan></text>
<text x="298.3" y="70.1" font-size="11.8" fill="#000">TE<tspan font-size="8.6" dy="3.5">1</tspan></text>
<text x="298.3" y="85" font-size="11.8" fill="#000">TM<tspan font-size="8.6" dy="3.5">1</tspan></text>
<text x="298.3" y="99.9" font-size="11.8" fill="#000">TE<tspan font-size="8.6" dy="3.5">2</tspan></text>
<text x="298.3" y="114.8" font-size="11.8" fill="#000">TM<tspan font-size="8.6" dy="3.5">2</tspan></text>
<rect x="508" y="155" width="75" height="81" fill="#fff"/>
<use href="#cl" x="528.9" y="176.8"/>
<use href="#cl" x="560.4" y="176.8"/>
<use href="#cl" x="528.8" y="209.5"/>
<use href="#cl" x="560.8" y="209.5"/>
<polygon points="403.6,36.4 405.06,40.89 409.78,40.89 405.96,43.67 407.42,48.16 403.6,45.38 399.78,48.16 401.24,43.67 397.42,40.89 402.14,40.89" fill="#F29230" stroke="none" stroke-width="0"/>
<polygon points="418.4,69.7 419.86,74.19 424.58,74.19 420.76,76.97 422.22,81.46 418.4,78.68 414.58,81.46 416.04,76.97 412.22,74.19 416.94,74.19" fill="#F29230" stroke="none" stroke-width="0"/>
<polygon points="433.2,103.1 434.66,107.59 439.38,107.59 435.56,110.37 437.02,114.86 433.2,112.08 429.38,114.86 430.84,110.37 427.02,107.59 431.74,107.59" fill="#F29230" stroke="none" stroke-width="0"/>
<polygon points="448,133.9 449.46,138.39 454.18,138.39 450.36,141.17 451.82,145.66 448,142.88 444.18,145.66 445.64,141.17 441.82,138.39 446.54,138.39" fill="#F29230" stroke="none" stroke-width="0"/>
<polygon points="462.8,168.1 464.26,172.59 468.98,172.59 465.16,175.37 466.62,179.86 462.8,177.08 458.98,179.86 460.44,175.37 456.62,172.59 461.34,172.59" fill="#F29230" stroke="none" stroke-width="0"/>
<polygon points="477.6,199.3 479.06,203.79 483.78,203.79 479.96,206.57 481.42,211.06 477.6,208.28 473.78,211.06 475.24,206.57 471.42,203.79 476.14,203.79" fill="#F29230" stroke="none" stroke-width="0"/>
<polygon points="516.9,56.2 527.1,56.2 522,65.8" fill="#F29230"/>
<polygon points="531.7,74.2 541.9,74.2 536.8,83.8" fill="#F29230"/>
<polygon points="546.5,88.2 556.7,88.2 551.6,97.8" fill="#F29230"/>
<polygon points="561.3,108.7 571.5,108.7 566.4,118.3" fill="#F29230"/>
<polygon points="576.1,133.7 586.3,133.7 581.2,143.3" fill="#F29230"/>
<polygon points="590.9,151.4 601.1,151.4 596,161" fill="#F29230"/>
<polygon points="605.7,169.3 615.9,169.3 610.8,178.9" fill="#F29230"/>
<polygon points="522,49.1 523.13,51.05 525.38,51.05 524.25,53 525.38,54.95 523.13,54.95 522,56.9 520.87,54.95 518.62,54.95 519.75,53 518.62,51.05 520.87,51.05" fill="#E00000" stroke="#000" stroke-width="1.8" stroke-linejoin="miter" stroke-miterlimit="10"/>
<polygon points="536.8,64.7 537.93,66.65 540.18,66.65 539.05,68.6 540.18,70.55 537.93,70.55 536.8,72.5 535.67,70.55 533.42,70.55 534.55,68.6 533.42,66.65 535.67,66.65" fill="#E00000" stroke="#000" stroke-width="1.8" stroke-linejoin="miter" stroke-miterlimit="10"/>
<polygon points="551.6,78.9 552.73,80.85 554.98,80.85 553.85,82.8 554.98,84.75 552.73,84.75 551.6,86.7 550.47,84.75 548.22,84.75 549.35,82.8 548.22,80.85 550.47,80.85" fill="#E00000" stroke="#000" stroke-width="1.8" stroke-linejoin="miter" stroke-miterlimit="10"/>
<polygon points="566.4,99.1 567.53,101.05 569.78,101.05 568.65,103 569.78,104.95 567.53,104.95 566.4,106.9 565.27,104.95 563.02,104.95 564.15,103 563.02,101.05 565.27,101.05" fill="#E00000" stroke="#000" stroke-width="1.8" stroke-linejoin="miter" stroke-miterlimit="10"/>
<polygon points="581.2,115.4 582.33,117.35 584.58,117.35 583.45,119.3 584.58,121.25 582.33,121.25 581.2,123.2 580.07,121.25 577.82,121.25 578.95,119.3 577.82,117.35 580.07,117.35" fill="#E00000" stroke="#000" stroke-width="1.8" stroke-linejoin="miter" stroke-miterlimit="10"/>
<polygon points="596,127.7 597.13,129.65 599.38,129.65 598.25,131.6 599.38,133.55 597.13,133.55 596,135.5 594.87,133.55 592.62,133.55 593.75,131.6 592.62,129.65 594.87,129.65" fill="#E00000" stroke="#000" stroke-width="1.8" stroke-linejoin="miter" stroke-miterlimit="10"/>
<polygon points="610.8,145.1 611.93,147.05 614.18,147.05 613.05,149 614.18,150.95 611.93,150.95 610.8,152.9 609.67,150.95 607.42,150.95 608.55,149 607.42,147.05 609.67,147.05" fill="#E00000" stroke="#000" stroke-width="1.8" stroke-linejoin="miter" stroke-miterlimit="10"/>
<polygon points="625.6,158.6 626.73,160.55 628.98,160.55 627.85,162.5 628.98,164.45 626.73,164.45 625.6,166.4 624.47,164.45 622.22,164.45 623.35,162.5 622.22,160.55 624.47,160.55" fill="#E00000" stroke="#000" stroke-width="1.8" stroke-linejoin="miter" stroke-miterlimit="10"/>
<polygon points="640.4,174.7 641.53,176.65 643.78,176.65 642.65,178.6 643.78,180.55 641.53,180.55 640.4,182.5 639.27,180.55 637.02,180.55 638.15,178.6 637.02,176.65 639.27,176.65" fill="#E00000" stroke="#000" stroke-width="1.8" stroke-linejoin="miter" stroke-miterlimit="10"/>
<polygon points="522,44.6 522.98,46.3 524.94,46.3 523.96,48 524.94,49.7 522.98,49.7 522,51.4 521.02,49.7 519.06,49.7 520.04,48 519.06,46.3 521.02,46.3" fill="#E00000" stroke="#00F060" stroke-width="1.8" stroke-linejoin="miter" stroke-miterlimit="10"/>
<polygon points="536.8,63.1 537.78,64.8 539.74,64.8 538.76,66.5 539.74,68.2 537.78,68.2 536.8,69.9 535.82,68.2 533.86,68.2 534.84,66.5 533.86,64.8 535.82,64.8" fill="#E00000" stroke="#00F060" stroke-width="1.8" stroke-linejoin="miter" stroke-miterlimit="10"/>
<polygon points="551.6,77.6 552.58,79.3 554.54,79.3 553.56,81 554.54,82.7 552.58,82.7 551.6,84.4 550.62,82.7 548.66,82.7 549.64,81 548.66,79.3 550.62,79.3" fill="#E00000" stroke="#00F060" stroke-width="1.8" stroke-linejoin="miter" stroke-miterlimit="10"/>
<polygon points="566.4,96.2 567.38,97.9 569.34,97.9 568.36,99.6 569.34,101.3 567.38,101.3 566.4,103 565.42,101.3 563.46,101.3 564.44,99.6 563.46,97.9 565.42,97.9" fill="#E00000" stroke="#00F060" stroke-width="1.8" stroke-linejoin="miter" stroke-miterlimit="10"/>
<polygon points="581.2,113.8 582.18,115.5 584.14,115.5 583.16,117.2 584.14,118.9 582.18,118.9 581.2,120.6 580.22,118.9 578.26,118.9 579.24,117.2 578.26,115.5 580.22,115.5" fill="#E00000" stroke="#00F060" stroke-width="1.8" stroke-linejoin="miter" stroke-miterlimit="10"/>
<polygon points="596,126.5 596.98,128.2 598.94,128.2 597.96,129.9 598.94,131.6 596.98,131.6 596,133.3 595.02,131.6 593.06,131.6 594.04,129.9 593.06,128.2 595.02,128.2" fill="#E00000" stroke="#00F060" stroke-width="1.8" stroke-linejoin="miter" stroke-miterlimit="10"/>
<polygon points="610.8,143.1 611.78,144.8 613.74,144.8 612.76,146.5 613.74,148.2 611.78,148.2 610.8,149.9 609.82,148.2 607.86,148.2 608.84,146.5 607.86,144.8 609.82,144.8" fill="#E00000" stroke="#00F060" stroke-width="1.8" stroke-linejoin="miter" stroke-miterlimit="10"/>
<polygon points="625.6,156.3 626.58,158 628.54,158 627.56,159.7 628.54,161.4 626.58,161.4 625.6,163.1 624.62,161.4 622.66,161.4 623.64,159.7 622.66,158 624.62,158" fill="#E00000" stroke="#00F060" stroke-width="1.8" stroke-linejoin="miter" stroke-miterlimit="10"/>
<polygon points="640.4,173.5 641.38,175.2 643.34,175.2 642.36,176.9 643.34,178.6 641.38,178.6 640.4,180.3 639.42,178.6 637.46,178.6 638.44,176.9 637.46,175.2 639.42,175.2" fill="#E00000" stroke="#00F060" stroke-width="1.8" stroke-linejoin="miter" stroke-miterlimit="10"/>
<line x1="583.2" y1="192.7" x2="632.69" y2="182.32" stroke="#000" stroke-width="1.6"/>
<polygon points="636.6,181.5 632.2,184.88 631.21,180.18" fill="#000"/>
<rect x="617" y="12" width="66" height="63.5" fill="#fff"/>
<polygon points="633,17.7 634.46,22.19 639.18,22.19 635.36,24.97 636.82,29.46 633,26.68 629.18,29.46 630.64,24.97 626.82,22.19 631.54,22.19" fill="#F29230" stroke="none" stroke-width="0"/>
<polygon points="628.3,34.2 637.7,34.2 633,43" fill="#F29230"/>
<polygon points="632.9,47.1 634.08,49.15 636.45,49.15 635.27,51.2 636.45,53.25 634.08,53.25 632.9,55.3 631.72,53.25 629.35,53.25 630.53,51.2 629.35,49.15 631.72,49.15" fill="#E00000" stroke="#000" stroke-width="1.6" stroke-linejoin="miter" stroke-miterlimit="10"/>
<polygon points="632.9,61.6 633.85,63.25 635.76,63.25 634.81,64.9 635.76,66.55 633.85,66.55 632.9,68.2 631.95,66.55 630.04,66.55 630.99,64.9 630.04,63.25 631.95,63.25" fill="#E00000" stroke="#00F060" stroke-width="1.6" stroke-linejoin="miter" stroke-miterlimit="10"/>
<text x="642.8" y="25.4" font-size="11.8" fill="#000" text-anchor="start" font-weight="normal">B to B</text>
<text x="642.8" y="40" font-size="11.8" fill="#000" text-anchor="start" font-weight="normal">0.15 km</text>
<text x="642.8" y="55" font-size="11.8" fill="#000" text-anchor="start" font-weight="normal">1 km</text>
<text x="642.8" y="69.6" font-size="11.8" fill="#000" text-anchor="start" font-weight="normal">2 km</text>
<rect x="36.3" y="10.7" width="294.7" height="225.5" fill="none" stroke="#1a1a1a" stroke-width="1.3"/>
<line x1="50.6" y1="236.2" x2="50.6" y2="232.3" stroke="#1a1a1a" stroke-width="1.3"/>
<line x1="50.6" y1="10.7" x2="50.6" y2="14.6" stroke="#1a1a1a" stroke-width="1.3"/>
<line x1="80.12" y1="236.2" x2="80.12" y2="232.3" stroke="#1a1a1a" stroke-width="1.3"/>
<line x1="80.12" y1="10.7" x2="80.12" y2="14.6" stroke="#1a1a1a" stroke-width="1.3"/>
<line x1="109.64" y1="236.2" x2="109.64" y2="232.3" stroke="#1a1a1a" stroke-width="1.3"/>
<line x1="109.64" y1="10.7" x2="109.64" y2="14.6" stroke="#1a1a1a" stroke-width="1.3"/>
<line x1="139.17" y1="236.2" x2="139.17" y2="232.3" stroke="#1a1a1a" stroke-width="1.3"/>
<line x1="139.17" y1="10.7" x2="139.17" y2="14.6" stroke="#1a1a1a" stroke-width="1.3"/>
<line x1="168.69" y1="236.2" x2="168.69" y2="232.3" stroke="#1a1a1a" stroke-width="1.3"/>
<line x1="168.69" y1="10.7" x2="168.69" y2="14.6" stroke="#1a1a1a" stroke-width="1.3"/>
<line x1="198.21" y1="236.2" x2="198.21" y2="232.3" stroke="#1a1a1a" stroke-width="1.3"/>
<line x1="198.21" y1="10.7" x2="198.21" y2="14.6" stroke="#1a1a1a" stroke-width="1.3"/>
<line x1="227.73" y1="236.2" x2="227.73" y2="232.3" stroke="#1a1a1a" stroke-width="1.3"/>
<line x1="227.73" y1="10.7" x2="227.73" y2="14.6" stroke="#1a1a1a" stroke-width="1.3"/>
<line x1="257.25" y1="236.2" x2="257.25" y2="232.3" stroke="#1a1a1a" stroke-width="1.3"/>
<line x1="257.25" y1="10.7" x2="257.25" y2="14.6" stroke="#1a1a1a" stroke-width="1.3"/>
<line x1="286.78" y1="236.2" x2="286.78" y2="232.3" stroke="#1a1a1a" stroke-width="1.3"/>
<line x1="286.78" y1="10.7" x2="286.78" y2="14.6" stroke="#1a1a1a" stroke-width="1.3"/>
<line x1="316.3" y1="236.2" x2="316.3" y2="232.3" stroke="#1a1a1a" stroke-width="1.3"/>
<line x1="316.3" y1="10.7" x2="316.3" y2="14.6" stroke="#1a1a1a" stroke-width="1.3"/>
<line x1="36.3" y1="76.9" x2="40.2" y2="76.9" stroke="#1a1a1a" stroke-width="1.3"/>
<line x1="331" y1="76.9" x2="327.1" y2="76.9" stroke="#1a1a1a" stroke-width="1.3"/>
<line x1="36.3" y1="170.5" x2="40.2" y2="170.5" stroke="#1a1a1a" stroke-width="1.3"/>
<line x1="331" y1="170.5" x2="327.1" y2="170.5" stroke="#1a1a1a" stroke-width="1.3"/>
<line x1="36.3" y1="236.2" x2="40.2" y2="236.2" stroke="#1a1a1a" stroke-width="1.3"/>
<line x1="331" y1="236.2" x2="327.1" y2="236.2" stroke="#1a1a1a" stroke-width="1.3"/>
<rect x="389.6" y="11.7" width="294.7" height="225.3" fill="none" stroke="#1a1a1a" stroke-width="1.3"/>
<line x1="403.6" y1="237" x2="403.6" y2="233.1" stroke="#1a1a1a" stroke-width="1.3"/>
<line x1="403.6" y1="11.7" x2="403.6" y2="15.6" stroke="#1a1a1a" stroke-width="1.3"/>
<line x1="433.2" y1="237" x2="433.2" y2="233.1" stroke="#1a1a1a" stroke-width="1.3"/>
<line x1="433.2" y1="11.7" x2="433.2" y2="15.6" stroke="#1a1a1a" stroke-width="1.3"/>
<line x1="462.8" y1="237" x2="462.8" y2="233.1" stroke="#1a1a1a" stroke-width="1.3"/>
<line x1="462.8" y1="11.7" x2="462.8" y2="15.6" stroke="#1a1a1a" stroke-width="1.3"/>
<line x1="492.4" y1="237" x2="492.4" y2="233.1" stroke="#1a1a1a" stroke-width="1.3"/>
<line x1="492.4" y1="11.7" x2="492.4" y2="15.6" stroke="#1a1a1a" stroke-width="1.3"/>
<line x1="522" y1="237" x2="522" y2="233.1" stroke="#1a1a1a" stroke-width="1.3"/>
<line x1="522" y1="11.7" x2="522" y2="15.6" stroke="#1a1a1a" stroke-width="1.3"/>
<line x1="551.6" y1="237" x2="551.6" y2="233.1" stroke="#1a1a1a" stroke-width="1.3"/>
<line x1="551.6" y1="11.7" x2="551.6" y2="15.6" stroke="#1a1a1a" stroke-width="1.3"/>
<line x1="581.2" y1="237" x2="581.2" y2="233.1" stroke="#1a1a1a" stroke-width="1.3"/>
<line x1="581.2" y1="11.7" x2="581.2" y2="15.6" stroke="#1a1a1a" stroke-width="1.3"/>
<line x1="610.8" y1="237" x2="610.8" y2="233.1" stroke="#1a1a1a" stroke-width="1.3"/>
<line x1="610.8" y1="11.7" x2="610.8" y2="15.6" stroke="#1a1a1a" stroke-width="1.3"/>
<line x1="640.4" y1="237" x2="640.4" y2="233.1" stroke="#1a1a1a" stroke-width="1.3"/>
<line x1="640.4" y1="11.7" x2="640.4" y2="15.6" stroke="#1a1a1a" stroke-width="1.3"/>
<line x1="670" y1="237" x2="670" y2="233.1" stroke="#1a1a1a" stroke-width="1.3"/>
<line x1="670" y1="11.7" x2="670" y2="15.6" stroke="#1a1a1a" stroke-width="1.3"/>
<line x1="389.6" y1="77.7" x2="393.5" y2="77.7" stroke="#1a1a1a" stroke-width="1.3"/>
<line x1="684.3" y1="77.7" x2="680.4" y2="77.7" stroke="#1a1a1a" stroke-width="1.3"/>
<line x1="389.6" y1="171.3" x2="393.5" y2="171.3" stroke="#1a1a1a" stroke-width="1.3"/>
<line x1="684.3" y1="171.3" x2="680.4" y2="171.3" stroke="#1a1a1a" stroke-width="1.3"/>
<line x1="389.6" y1="237" x2="393.5" y2="237" stroke="#1a1a1a" stroke-width="1.3"/>
<line x1="684.3" y1="237" x2="680.4" y2="237" stroke="#1a1a1a" stroke-width="1.3"/>
<text x="50.6" y="252" font-size="13.4" fill="#000" text-anchor="middle" font-weight="normal">8</text>
<text x="80.12" y="252" font-size="13.4" fill="#000" text-anchor="middle" font-weight="normal">10</text>
<text x="109.64" y="252" font-size="13.4" fill="#000" text-anchor="middle" font-weight="normal">12</text>
<text x="139.17" y="252" font-size="13.4" fill="#000" text-anchor="middle" font-weight="normal">14</text>
<text x="168.69" y="252" font-size="13.4" fill="#000" text-anchor="middle" font-weight="normal">16</text>
<text x="198.21" y="252" font-size="13.4" fill="#000" text-anchor="middle" font-weight="normal">18</text>
<text x="227.73" y="252" font-size="13.4" fill="#000" text-anchor="middle" font-weight="normal">20</text>
<text x="257.25" y="252" font-size="13.4" fill="#000" text-anchor="middle" font-weight="normal">22</text>
<text x="286.78" y="252" font-size="13.4" fill="#000" text-anchor="middle" font-weight="normal">24</text>
<text x="316.3" y="252" font-size="13.4" fill="#000" text-anchor="middle" font-weight="normal">26</text>
<text x="31.2" y="81.6" font-size="13.4" fill="#000" text-anchor="end" font-weight="normal">2</text>
<text x="31.2" y="175.2" font-size="13.4" fill="#000" text-anchor="end" font-weight="normal">3</text>
<text x="31.2" y="240.9" font-size="13.4" fill="#000" text-anchor="end" font-weight="normal">4</text>
<text x="183.65" y="271" font-size="13.5" fill="#000" text-anchor="middle" font-weight="normal">Received OSNR(dB)</text>
<text transform="translate(12.6,123.45) rotate(-90)" font-size="13.6" text-anchor="middle" fill="#000">-Log<tspan font-size="9.4" dy="3">10</tspan><tspan dy="-3">(BER)</tspan></text>
<text x="403.6" y="253" font-size="13.4" fill="#000" text-anchor="middle" font-weight="normal">8</text>
<text x="433.2" y="253" font-size="13.4" fill="#000" text-anchor="middle" font-weight="normal">10</text>
<text x="462.8" y="253" font-size="13.4" fill="#000" text-anchor="middle" font-weight="normal">12</text>
<text x="492.4" y="253" font-size="13.4" fill="#000" text-anchor="middle" font-weight="normal">14</text>
<text x="522" y="253" font-size="13.4" fill="#000" text-anchor="middle" font-weight="normal">16</text>
<text x="551.6" y="253" font-size="13.4" fill="#000" text-anchor="middle" font-weight="normal">18</text>
<text x="581.2" y="253" font-size="13.4" fill="#000" text-anchor="middle" font-weight="normal">20</text>
<text x="610.8" y="253" font-size="13.4" fill="#000" text-anchor="middle" font-weight="normal">22</text>
<text x="640.4" y="253" font-size="13.4" fill="#000" text-anchor="middle" font-weight="normal">24</text>
<text x="670" y="253" font-size="13.4" fill="#000" text-anchor="middle" font-weight="normal">26</text>
<text x="384.5" y="82.4" font-size="13.4" fill="#000" text-anchor="end" font-weight="normal">2</text>
<text x="384.5" y="176" font-size="13.4" fill="#000" text-anchor="end" font-weight="normal">3</text>
<text x="384.5" y="241.7" font-size="13.4" fill="#000" text-anchor="end" font-weight="normal">4</text>
<text x="536.95" y="272" font-size="13.5" fill="#000" text-anchor="middle" font-weight="normal">Received OSNR(dB)</text>
<text transform="translate(366,124.35) rotate(-90)" font-size="13.6" text-anchor="middle" fill="#000">-Log<tspan font-size="9.4" dy="3">10</tspan><tspan dy="-3">(BER)</tspan></text>
<text x="-0.8" y="14" font-size="19.5" fill="#000" text-anchor="start" font-weight="bold">a</text>
<text x="352.2" y="14" font-size="19.5" fill="#000" text-anchor="start" font-weight="bold">b</text></svg>
</body></html>
